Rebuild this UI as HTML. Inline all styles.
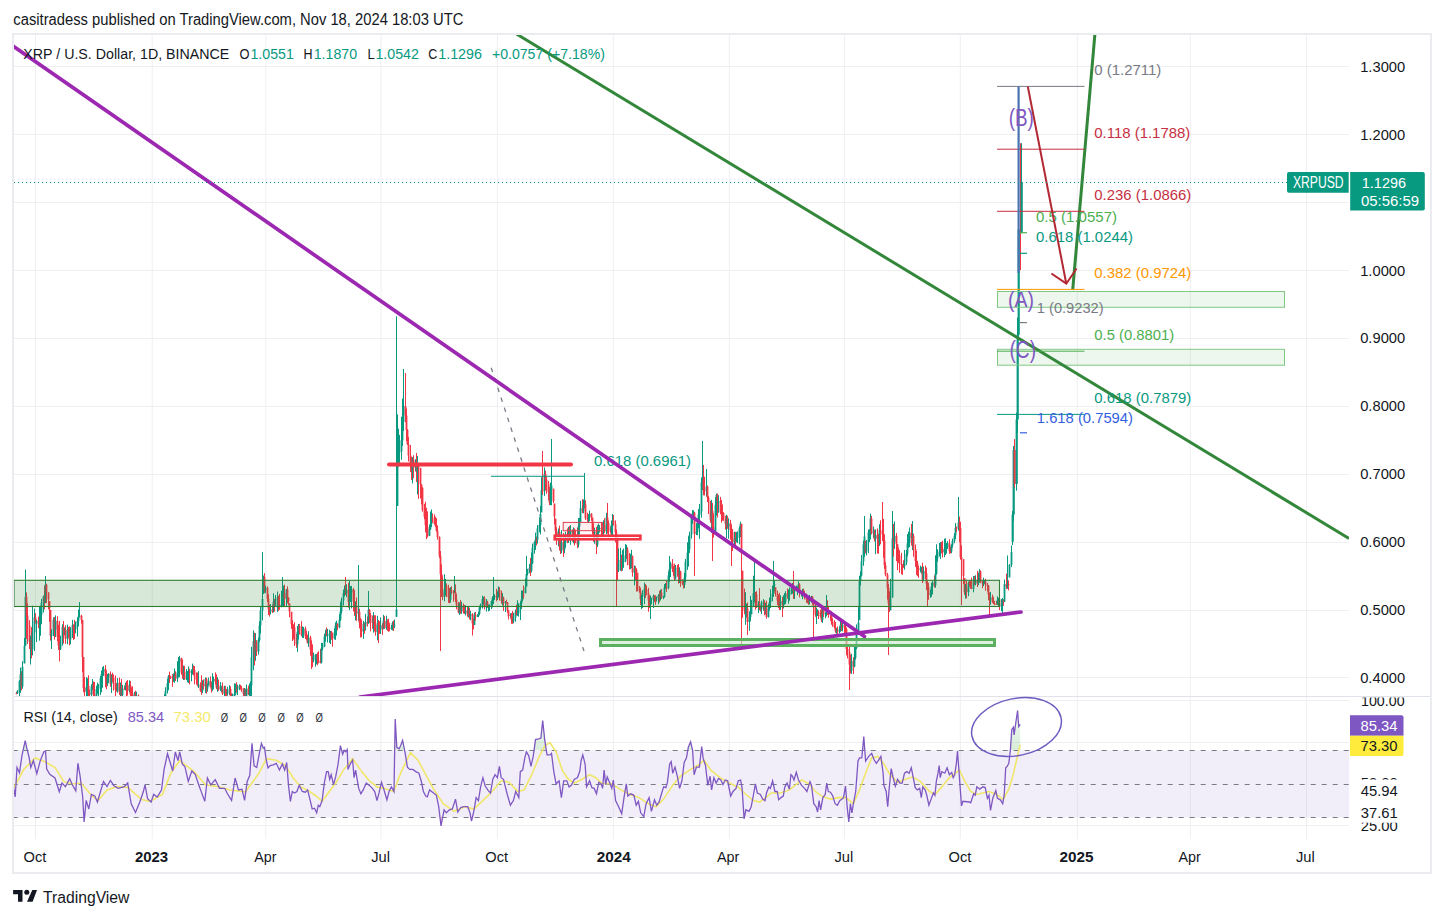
<!DOCTYPE html><html><head><meta charset="utf-8"><style>html,body{margin:0;padding:0;background:#fff;width:1444px;height:918px;overflow:hidden}svg{display:block}text{font-family:"Liberation Sans", sans-serif}</style></head><body><svg width="1444" height="918" viewBox="0 0 1444 918"><rect width="1444" height="918" fill="#fff"/><text x="13.3" y="24.6" font-size="15.6" fill="#131722" text-anchor="start" font-weight="400" textLength="450" lengthAdjust="spacingAndGlyphs" >casitradess published on TradingView.com, Nov 18, 2024 18:03 UTC</text><line x1="35.5" y1="35" x2="35.5" y2="839" stroke="#efeff2" stroke-width="1"/><line x1="152.2" y1="35" x2="152.2" y2="839" stroke="#efeff2" stroke-width="1"/><line x1="265.8" y1="35" x2="265.8" y2="839" stroke="#efeff2" stroke-width="1"/><line x1="381.0" y1="35" x2="381.0" y2="839" stroke="#efeff2" stroke-width="1"/><line x1="497.4" y1="35" x2="497.4" y2="839" stroke="#efeff2" stroke-width="1"/><line x1="613.3" y1="35" x2="613.3" y2="839" stroke="#efeff2" stroke-width="1"/><line x1="729.3" y1="35" x2="729.3" y2="839" stroke="#efeff2" stroke-width="1"/><line x1="844.4" y1="35" x2="844.4" y2="839" stroke="#efeff2" stroke-width="1"/><line x1="960.3" y1="35" x2="960.3" y2="839" stroke="#efeff2" stroke-width="1"/><line x1="1077.3" y1="35" x2="1077.3" y2="839" stroke="#efeff2" stroke-width="1"/><line x1="1190.3" y1="35" x2="1190.3" y2="839" stroke="#efeff2" stroke-width="1"/><line x1="1306.4" y1="35" x2="1306.4" y2="839" stroke="#efeff2" stroke-width="1"/><line x1="14" y1="677.5" x2="1349" y2="677.5" stroke="#efeff2" stroke-width="1"/><line x1="14" y1="610.5" x2="1349" y2="610.5" stroke="#efeff2" stroke-width="1"/><line x1="14" y1="542.5" x2="1349" y2="542.5" stroke="#efeff2" stroke-width="1"/><line x1="14" y1="474.5" x2="1349" y2="474.5" stroke="#efeff2" stroke-width="1"/><line x1="14" y1="406.5" x2="1349" y2="406.5" stroke="#efeff2" stroke-width="1"/><line x1="14" y1="338.5" x2="1349" y2="338.5" stroke="#efeff2" stroke-width="1"/><line x1="14" y1="270.5" x2="1349" y2="270.5" stroke="#efeff2" stroke-width="1"/><line x1="14" y1="202.5" x2="1349" y2="202.5" stroke="#efeff2" stroke-width="1"/><line x1="14" y1="134.5" x2="1349" y2="134.5" stroke="#efeff2" stroke-width="1"/><line x1="14" y1="66.5" x2="1349" y2="66.5" stroke="#efeff2" stroke-width="1"/><line x1="14" y1="700.5" x2="1349" y2="700.5" stroke="#efeff2" stroke-width="1"/><line x1="14" y1="742.5" x2="1349" y2="742.5" stroke="#efeff2" stroke-width="1"/><line x1="14" y1="825.5" x2="1349" y2="825.5" stroke="#efeff2" stroke-width="1"/><defs><clipPath id="pp"><rect x="14" y="35" width="1335" height="661"/></clipPath><clipPath id="rp"><rect x="14" y="697" width="1335" height="142"/></clipPath><linearGradient id="mg" x1="0" y1="0" x2="0" y2="1"><stop offset="0" stop-color="#b0407a"/><stop offset="1" stop-color="#7e57c2"/></linearGradient><linearGradient id="obg" x1="0" y1="0" x2="0" y2="1"><stop offset="0" stop-color="#7e57c2" stop-opacity="0.15"/><stop offset="1" stop-color="#089981" stop-opacity="0.35"/></linearGradient></defs><g clip-path="url(#pp)"><rect x="16" y="691.8" width="1" height="2.4" fill="#f23645"/><rect x="15.6" y="693.1" width="1.8" height="1.0" fill="#f23645"/><rect x="17" y="690.1" width="1" height="3.8" fill="#089981"/><rect x="16.6" y="691.1" width="1.8" height="2.0" fill="#089981"/><rect x="19" y="679.9" width="1" height="18.2" fill="#089981"/><rect x="18.6" y="681.1" width="1.8" height="9.9" fill="#089981"/><rect x="20" y="667.6" width="1" height="25.3" fill="#089981"/><rect x="19.6" y="674.3" width="1.8" height="6.8" fill="#089981"/><rect x="21" y="671.2" width="1" height="19.2" fill="#f23645"/><rect x="20.6" y="674.3" width="1.8" height="12.2" fill="#f23645"/><rect x="22" y="661.2" width="1" height="27.5" fill="#089981"/><rect x="21.6" y="666.9" width="1.8" height="19.6" fill="#089981"/><rect x="24" y="638.0" width="1" height="23.4" fill="#089981"/><rect x="23.6" y="645.8" width="1.8" height="17.7" fill="#089981"/><rect x="25" y="569.5" width="1" height="72.0" fill="#089981"/><rect x="24.6" y="596.9" width="1.8" height="48.9" fill="#089981"/><rect x="26" y="592.4" width="1" height="46.4" fill="#f23645"/><rect x="25.6" y="596.9" width="1.8" height="18.5" fill="#f23645"/><rect x="27" y="603.2" width="1" height="40.7" fill="#f23645"/><rect x="26.6" y="615.4" width="1.8" height="9.9" fill="#f23645"/><rect x="29" y="620.2" width="1" height="28.8" fill="#f23645"/><rect x="28.6" y="625.4" width="1.8" height="16.3" fill="#f23645"/><rect x="30" y="635.7" width="1" height="28.8" fill="#089981"/><rect x="29.6" y="639.7" width="1.8" height="2.0" fill="#089981"/><rect x="31" y="627.1" width="1" height="31.3" fill="#f23645"/><rect x="30.6" y="639.7" width="1.8" height="9.7" fill="#f23645"/><rect x="32" y="605.7" width="1" height="49.7" fill="#089981"/><rect x="31.6" y="632.5" width="1.8" height="16.9" fill="#089981"/><rect x="34" y="608.6" width="1" height="42.5" fill="#089981"/><rect x="33.6" y="617.4" width="1.8" height="15.1" fill="#089981"/><rect x="35" y="613.2" width="1" height="10.4" fill="#f23645"/><rect x="34.6" y="617.4" width="1.8" height="4.0" fill="#f23645"/><rect x="36" y="619.7" width="1" height="22.3" fill="#089981"/><rect x="35.6" y="621.2" width="1.8" height="1.0" fill="#089981"/><rect x="38" y="616.6" width="1" height="11.7" fill="#f23645"/><rect x="37.6" y="621.2" width="1.8" height="2.9" fill="#f23645"/><rect x="39" y="606.7" width="1" height="33.9" fill="#089981"/><rect x="38.6" y="623.0" width="1.8" height="1.1" fill="#089981"/><rect x="40" y="605.7" width="1" height="30.0" fill="#089981"/><rect x="39.6" y="614.7" width="1.8" height="8.3" fill="#089981"/><rect x="41" y="598.8" width="1" height="25.5" fill="#089981"/><rect x="40.6" y="602.4" width="1.8" height="12.3" fill="#089981"/><rect x="43" y="595.5" width="1" height="17.0" fill="#089981"/><rect x="42.6" y="596.6" width="1.8" height="5.8" fill="#089981"/><rect x="44" y="585.7" width="1" height="23.7" fill="#f23645"/><rect x="43.6" y="596.6" width="1.8" height="6.5" fill="#f23645"/><rect x="45" y="576.0" width="1" height="25.8" fill="#089981"/><rect x="44.6" y="584.8" width="1.8" height="18.3" fill="#089981"/><rect x="46" y="583.7" width="1" height="19.4" fill="#f23645"/><rect x="45.6" y="584.8" width="1.8" height="7.6" fill="#f23645"/><rect x="48" y="592.4" width="1" height="17.0" fill="#f23645"/><rect x="47.6" y="592.4" width="1.8" height="7.0" fill="#f23645"/><rect x="49" y="603.8" width="1" height="18.1" fill="#f23645"/><rect x="48.6" y="601.0" width="1.8" height="7.2" fill="#f23645"/><rect x="50" y="612.4" width="1" height="28.2" fill="#f23645"/><rect x="49.6" y="609.8" width="1.8" height="25.8" fill="#f23645"/><rect x="51" y="629.2" width="1" height="19.8" fill="#089981"/><rect x="50.6" y="632.9" width="1.8" height="2.8" fill="#089981"/><rect x="53" y="617.4" width="1" height="18.8" fill="#089981"/><rect x="52.6" y="619.9" width="1.8" height="13.0" fill="#089981"/><rect x="54" y="617.0" width="1" height="22.6" fill="#f23645"/><rect x="53.6" y="619.9" width="1.8" height="10.0" fill="#f23645"/><rect x="55" y="615.4" width="1" height="21.7" fill="#089981"/><rect x="54.6" y="620.8" width="1.8" height="9.1" fill="#089981"/><rect x="57" y="616.2" width="1" height="25.0" fill="#f23645"/><rect x="56.6" y="620.8" width="1.8" height="15.9" fill="#f23645"/><rect x="58" y="624.8" width="1" height="25.1" fill="#f23645"/><rect x="57.6" y="636.7" width="1.8" height="8.8" fill="#f23645"/><rect x="59" y="620.9" width="1" height="40.5" fill="#f23645"/><rect x="58.6" y="645.5" width="1.8" height="3.5" fill="#f23645"/><rect x="60" y="635.6" width="1" height="14.4" fill="#089981"/><rect x="59.6" y="642.9" width="1.8" height="6.2" fill="#089981"/><rect x="62" y="624.3" width="1" height="21.5" fill="#089981"/><rect x="61.6" y="626.9" width="1.8" height="16.0" fill="#089981"/><rect x="63" y="621.0" width="1" height="22.6" fill="#f23645"/><rect x="62.6" y="626.9" width="1.8" height="4.1" fill="#f23645"/><rect x="64" y="627.6" width="1" height="7.7" fill="#089981"/><rect x="63.6" y="629.6" width="1.8" height="1.3" fill="#089981"/><rect x="65" y="625.3" width="1" height="18.4" fill="#f23645"/><rect x="64.6" y="629.6" width="1.8" height="9.1" fill="#f23645"/><rect x="67" y="624.6" width="1" height="19.7" fill="#089981"/><rect x="66.6" y="629.9" width="1.8" height="8.8" fill="#089981"/><rect x="68" y="627.0" width="1" height="10.8" fill="#f23645"/><rect x="67.6" y="629.9" width="1.8" height="1.9" fill="#f23645"/><rect x="69" y="626.3" width="1" height="19.0" fill="#f23645"/><rect x="68.6" y="631.8" width="1.8" height="7.7" fill="#f23645"/><rect x="70" y="627.2" width="1" height="17.1" fill="#089981"/><rect x="69.6" y="628.9" width="1.8" height="10.5" fill="#089981"/><rect x="72" y="619.9" width="1" height="18.1" fill="#089981"/><rect x="71.6" y="625.3" width="1.8" height="3.6" fill="#089981"/><rect x="73" y="624.4" width="1" height="15.7" fill="#f23645"/><rect x="72.6" y="625.3" width="1.8" height="4.0" fill="#f23645"/><rect x="74" y="619.8" width="1" height="19.2" fill="#f23645"/><rect x="73.6" y="629.4" width="1.8" height="1.0" fill="#f23645"/><rect x="75" y="621.5" width="1" height="11.8" fill="#089981"/><rect x="74.6" y="624.1" width="1.8" height="5.3" fill="#089981"/><rect x="77" y="617.4" width="1" height="19.1" fill="#089981"/><rect x="76.6" y="620.9" width="1.8" height="3.2" fill="#089981"/><rect x="78" y="609.5" width="1" height="17.0" fill="#089981"/><rect x="77.6" y="616.5" width="1.8" height="4.4" fill="#089981"/><rect x="79" y="602.0" width="1" height="15.5" fill="#089981"/><rect x="78.6" y="615.7" width="1.8" height="1.0" fill="#089981"/><rect x="81" y="614.7" width="1" height="8.9" fill="#f23645"/><rect x="80.6" y="615.7" width="1.8" height="4.2" fill="#f23645"/><rect x="82" y="621.9" width="1" height="50.2" fill="#f23645"/><rect x="81.6" y="620.0" width="1.8" height="37.1" fill="#f23645"/><rect x="83" y="658.7" width="1" height="33.6" fill="#f23645"/><rect x="82.6" y="657.0" width="1.8" height="31.0" fill="#f23645"/><rect x="84" y="677.0" width="1" height="22.4" fill="#f23645"/><rect x="83.6" y="688.0" width="1.8" height="3.7" fill="#f23645"/><rect x="86" y="677.1" width="1" height="20.1" fill="#089981"/><rect x="85.6" y="687.0" width="1.8" height="4.7" fill="#089981"/><rect x="87" y="678.2" width="1" height="21.1" fill="#089981"/><rect x="86.6" y="686.0" width="1.8" height="1.0" fill="#089981"/><rect x="88" y="675.3" width="1" height="23.2" fill="#f23645"/><rect x="87.6" y="686.0" width="1.8" height="7.0" fill="#f23645"/><rect x="89" y="689.5" width="1" height="7.7" fill="#f23645"/><rect x="88.6" y="693.0" width="1.8" height="1.6" fill="#f23645"/><rect x="91" y="684.4" width="1" height="15.5" fill="#089981"/><rect x="90.6" y="686.4" width="1.8" height="8.2" fill="#089981"/><rect x="92" y="679.0" width="1" height="11.2" fill="#089981"/><rect x="91.6" y="683.7" width="1.8" height="2.7" fill="#089981"/><rect x="93" y="681.5" width="1" height="15.9" fill="#f23645"/><rect x="92.6" y="683.7" width="1.8" height="10.6" fill="#f23645"/><rect x="94" y="682.0" width="1" height="17.2" fill="#f23645"/><rect x="93.6" y="694.3" width="1.8" height="3.0" fill="#f23645"/><rect x="96" y="685.6" width="1" height="13.6" fill="#089981"/><rect x="95.6" y="688.9" width="1.8" height="8.5" fill="#089981"/><rect x="97" y="682.6" width="1" height="11.3" fill="#089981"/><rect x="96.6" y="688.7" width="1.8" height="1.0" fill="#089981"/><rect x="98" y="684.0" width="1" height="13.9" fill="#089981"/><rect x="97.6" y="686.8" width="1.8" height="1.9" fill="#089981"/><rect x="100" y="676.0" width="1" height="19.1" fill="#089981"/><rect x="99.6" y="678.1" width="1.8" height="8.7" fill="#089981"/><rect x="101" y="670.6" width="1" height="21.6" fill="#089981"/><rect x="100.6" y="674.4" width="1.8" height="3.7" fill="#089981"/><rect x="102" y="667.1" width="1" height="20.7" fill="#089981"/><rect x="101.6" y="672.3" width="1.8" height="2.1" fill="#089981"/><rect x="103" y="666.0" width="1" height="9.9" fill="#089981"/><rect x="102.6" y="668.9" width="1.8" height="3.3" fill="#089981"/><rect x="105" y="665.1" width="1" height="22.2" fill="#f23645"/><rect x="104.6" y="668.9" width="1.8" height="7.5" fill="#f23645"/><rect x="106" y="670.4" width="1" height="18.8" fill="#f23645"/><rect x="105.6" y="676.4" width="1.8" height="7.3" fill="#f23645"/><rect x="107" y="673.9" width="1" height="12.2" fill="#089981"/><rect x="106.6" y="676.7" width="1.8" height="7.0" fill="#089981"/><rect x="108" y="673.1" width="1" height="9.8" fill="#089981"/><rect x="107.6" y="673.9" width="1.8" height="2.7" fill="#089981"/><rect x="110" y="671.5" width="1" height="15.2" fill="#f23645"/><rect x="109.6" y="673.9" width="1.8" height="9.9" fill="#f23645"/><rect x="111" y="674.5" width="1" height="18.4" fill="#089981"/><rect x="110.6" y="676.1" width="1.8" height="7.7" fill="#089981"/><rect x="112" y="672.7" width="1" height="9.1" fill="#f23645"/><rect x="111.6" y="676.1" width="1.8" height="1.5" fill="#f23645"/><rect x="113" y="674.4" width="1" height="16.1" fill="#f23645"/><rect x="112.6" y="677.7" width="1.8" height="5.4" fill="#f23645"/><rect x="115" y="675.5" width="1" height="23.2" fill="#f23645"/><rect x="114.6" y="683.0" width="1.8" height="6.5" fill="#f23645"/><rect x="116" y="683.1" width="1" height="8.5" fill="#f23645"/><rect x="115.6" y="689.6" width="1.8" height="1.0" fill="#f23645"/><rect x="117" y="678.1" width="1" height="14.6" fill="#089981"/><rect x="116.6" y="682.8" width="1.8" height="7.8" fill="#089981"/><rect x="119" y="677.5" width="1" height="17.4" fill="#f23645"/><rect x="118.6" y="682.8" width="1.8" height="9.2" fill="#f23645"/><rect x="120" y="682.6" width="1" height="13.5" fill="#089981"/><rect x="119.6" y="687.1" width="1.8" height="4.8" fill="#089981"/><rect x="121" y="678.9" width="1" height="18.7" fill="#f23645"/><rect x="120.6" y="687.1" width="1.8" height="7.8" fill="#f23645"/><rect x="122" y="684.9" width="1" height="12.7" fill="#089981"/><rect x="121.6" y="688.7" width="1.8" height="6.3" fill="#089981"/><rect x="124" y="685.8" width="1" height="4.2" fill="#f23645"/><rect x="123.6" y="688.7" width="1.8" height="1.0" fill="#f23645"/><rect x="125" y="682.6" width="1" height="7.8" fill="#089981"/><rect x="124.6" y="684.7" width="1.8" height="4.9" fill="#089981"/><rect x="126" y="681.1" width="1" height="15.4" fill="#f23645"/><rect x="125.6" y="684.7" width="1.8" height="1.0" fill="#f23645"/><rect x="127" y="680.0" width="1" height="15.6" fill="#f23645"/><rect x="126.6" y="684.8" width="1.8" height="6.2" fill="#f23645"/><rect x="129" y="680.3" width="1" height="12.4" fill="#089981"/><rect x="128.6" y="685.4" width="1.8" height="5.6" fill="#089981"/><rect x="130" y="681.1" width="1" height="18.5" fill="#f23645"/><rect x="129.6" y="685.4" width="1.8" height="9.0" fill="#f23645"/><rect x="131" y="687.2" width="1" height="15.6" fill="#f23645"/><rect x="130.6" y="694.4" width="1.8" height="1.0" fill="#f23645"/><rect x="132" y="686.3" width="1" height="18.1" fill="#f23645"/><rect x="131.6" y="694.9" width="1.8" height="3.0" fill="#f23645"/><rect x="134" y="691.9" width="1" height="8.9" fill="#089981"/><rect x="133.6" y="693.2" width="1.8" height="4.7" fill="#089981"/><rect x="135" y="690.7" width="1" height="18.6" fill="#f23645"/><rect x="134.6" y="693.2" width="1.8" height="7.4" fill="#f23645"/><rect x="136" y="691.7" width="1" height="17.0" fill="#089981"/><rect x="135.6" y="695.7" width="1.8" height="4.9" fill="#089981"/><rect x="138" y="694.4" width="1" height="14.2" fill="#f23645"/><rect x="137.6" y="695.7" width="1.8" height="9.2" fill="#f23645"/><rect x="139" y="696.6" width="1" height="19.6" fill="#089981"/><rect x="138.6" y="702.9" width="1.8" height="2.0" fill="#089981"/><rect x="140" y="698.9" width="1" height="17.6" fill="#f23645"/><rect x="139.6" y="702.9" width="1.8" height="3.4" fill="#f23645"/><rect x="141" y="699.0" width="1" height="12.5" fill="#f23645"/><rect x="140.6" y="706.3" width="1.8" height="2.7" fill="#f23645"/><rect x="143" y="703.3" width="1" height="8.8" fill="#f23645"/><rect x="142.6" y="709.0" width="1.8" height="2.8" fill="#f23645"/><rect x="144" y="697.5" width="1" height="20.2" fill="#089981"/><rect x="143.6" y="705.1" width="1.8" height="6.6" fill="#089981"/><rect x="145" y="699.8" width="1" height="10.9" fill="#f23645"/><rect x="144.6" y="705.1" width="1.8" height="2.2" fill="#f23645"/><rect x="146" y="696.4" width="1" height="12.1" fill="#089981"/><rect x="145.6" y="703.9" width="1.8" height="3.4" fill="#089981"/><rect x="148" y="698.3" width="1" height="16.7" fill="#f23645"/><rect x="147.6" y="703.9" width="1.8" height="8.3" fill="#f23645"/><rect x="149" y="708.2" width="1" height="9.5" fill="#f23645"/><rect x="148.6" y="712.2" width="1.8" height="4.2" fill="#f23645"/><rect x="150" y="712.5" width="1" height="7.5" fill="#f23645"/><rect x="149.6" y="716.4" width="1.8" height="1.3" fill="#f23645"/><rect x="151" y="709.6" width="1" height="9.2" fill="#089981"/><rect x="150.6" y="714.9" width="1.8" height="2.8" fill="#089981"/><rect x="153" y="702.0" width="1" height="14.8" fill="#089981"/><rect x="152.6" y="705.2" width="1.8" height="9.7" fill="#089981"/><rect x="154" y="702.3" width="1" height="5.2" fill="#f23645"/><rect x="153.6" y="705.2" width="1.8" height="1.4" fill="#f23645"/><rect x="155" y="704.3" width="1" height="14.0" fill="#f23645"/><rect x="154.6" y="706.6" width="1.8" height="5.9" fill="#f23645"/><rect x="156" y="702.5" width="1" height="15.7" fill="#089981"/><rect x="155.6" y="706.3" width="1.8" height="6.2" fill="#089981"/><rect x="158" y="700.6" width="1" height="6.7" fill="#089981"/><rect x="157.6" y="704.5" width="1.8" height="1.8" fill="#089981"/><rect x="159" y="700.4" width="1" height="10.9" fill="#f23645"/><rect x="158.6" y="704.5" width="1.8" height="4.5" fill="#f23645"/><rect x="160" y="701.7" width="1" height="11.8" fill="#089981"/><rect x="159.6" y="704.7" width="1.8" height="4.4" fill="#089981"/><rect x="162" y="696.1" width="1" height="13.6" fill="#f23645"/><rect x="161.6" y="704.7" width="1.8" height="1.0" fill="#f23645"/><rect x="163" y="700.4" width="1" height="6.1" fill="#089981"/><rect x="162.6" y="702.0" width="1.8" height="2.9" fill="#089981"/><rect x="164" y="694.3" width="1" height="8.7" fill="#089981"/><rect x="163.6" y="697.7" width="1.8" height="4.3" fill="#089981"/><rect x="165" y="687.3" width="1" height="12.1" fill="#089981"/><rect x="164.6" y="691.0" width="1.8" height="6.7" fill="#089981"/><rect x="167" y="678.8" width="1" height="14.7" fill="#089981"/><rect x="166.6" y="683.2" width="1.8" height="7.8" fill="#089981"/><rect x="168" y="675.0" width="1" height="14.8" fill="#089981"/><rect x="167.6" y="676.2" width="1.8" height="7.0" fill="#089981"/><rect x="169" y="671.6" width="1" height="11.4" fill="#f23645"/><rect x="168.6" y="676.2" width="1.8" height="1.0" fill="#f23645"/><rect x="170" y="675.7" width="1" height="3.3" fill="#f23645"/><rect x="169.6" y="676.4" width="1.8" height="1.0" fill="#f23645"/><rect x="172" y="674.2" width="1" height="12.6" fill="#f23645"/><rect x="171.6" y="677.0" width="1.8" height="1.0" fill="#f23645"/><rect x="173" y="673.4" width="1" height="8.5" fill="#089981"/><rect x="172.6" y="677.3" width="1.8" height="1.0" fill="#089981"/><rect x="174" y="668.5" width="1" height="14.3" fill="#089981"/><rect x="173.6" y="673.9" width="1.8" height="3.4" fill="#089981"/><rect x="175" y="671.3" width="1" height="9.7" fill="#f23645"/><rect x="174.6" y="673.9" width="1.8" height="4.6" fill="#f23645"/><rect x="177" y="661.3" width="1" height="20.8" fill="#089981"/><rect x="176.6" y="672.3" width="1.8" height="6.2" fill="#089981"/><rect x="178" y="657.0" width="1" height="20.4" fill="#089981"/><rect x="177.6" y="661.8" width="1.8" height="10.6" fill="#089981"/><rect x="179" y="655.8" width="1" height="21.3" fill="#089981"/><rect x="178.6" y="658.2" width="1.8" height="3.6" fill="#089981"/><rect x="181" y="657.7" width="1" height="17.1" fill="#f23645"/><rect x="180.6" y="658.2" width="1.8" height="14.4" fill="#f23645"/><rect x="182" y="659.6" width="1" height="19.2" fill="#f23645"/><rect x="181.6" y="672.6" width="1.8" height="1.0" fill="#f23645"/><rect x="183" y="665.6" width="1" height="14.4" fill="#089981"/><rect x="182.6" y="671.8" width="1.8" height="1.3" fill="#089981"/><rect x="184" y="665.8" width="1" height="14.1" fill="#f23645"/><rect x="183.6" y="671.8" width="1.8" height="7.0" fill="#f23645"/><rect x="186" y="669.1" width="1" height="11.0" fill="#089981"/><rect x="185.6" y="678.3" width="1.8" height="1.0" fill="#089981"/><rect x="187" y="671.0" width="1" height="11.3" fill="#089981"/><rect x="186.6" y="676.6" width="1.8" height="1.7" fill="#089981"/><rect x="188" y="666.4" width="1" height="16.7" fill="#089981"/><rect x="187.6" y="671.9" width="1.8" height="4.7" fill="#089981"/><rect x="189" y="668.8" width="1" height="15.5" fill="#f23645"/><rect x="188.6" y="671.9" width="1.8" height="1.0" fill="#f23645"/><rect x="191" y="669.5" width="1" height="11.8" fill="#089981"/><rect x="190.6" y="670.5" width="1.8" height="2.0" fill="#089981"/><rect x="192" y="663.6" width="1" height="11.0" fill="#089981"/><rect x="191.6" y="669.3" width="1.8" height="1.2" fill="#089981"/><rect x="193" y="665.4" width="1" height="9.5" fill="#f23645"/><rect x="192.6" y="669.3" width="1.8" height="1.0" fill="#f23645"/><rect x="194" y="666.1" width="1" height="18.2" fill="#f23645"/><rect x="193.6" y="670.2" width="1.8" height="6.0" fill="#f23645"/><rect x="196" y="672.4" width="1" height="11.9" fill="#f23645"/><rect x="195.6" y="676.2" width="1.8" height="3.4" fill="#f23645"/><rect x="197" y="672.5" width="1" height="14.0" fill="#f23645"/><rect x="196.6" y="679.6" width="1.8" height="5.5" fill="#f23645"/><rect x="198" y="671.1" width="1" height="16.9" fill="#089981"/><rect x="197.6" y="684.8" width="1.8" height="1.0" fill="#089981"/><rect x="200" y="682.3" width="1" height="9.4" fill="#f23645"/><rect x="199.6" y="684.8" width="1.8" height="6.1" fill="#f23645"/><rect x="201" y="675.2" width="1" height="19.7" fill="#f23645"/><rect x="200.6" y="691.0" width="1.8" height="1.0" fill="#f23645"/><rect x="202" y="680.2" width="1" height="13.0" fill="#089981"/><rect x="201.6" y="683.8" width="1.8" height="7.2" fill="#089981"/><rect x="203" y="679.4" width="1" height="9.9" fill="#f23645"/><rect x="202.6" y="683.8" width="1.8" height="2.4" fill="#f23645"/><rect x="205" y="677.4" width="1" height="15.7" fill="#089981"/><rect x="204.6" y="679.1" width="1.8" height="7.0" fill="#089981"/><rect x="206" y="677.7" width="1" height="16.0" fill="#f23645"/><rect x="205.6" y="679.1" width="1.8" height="9.3" fill="#f23645"/><rect x="207" y="683.5" width="1" height="8.2" fill="#089981"/><rect x="206.6" y="684.9" width="1.8" height="3.6" fill="#089981"/><rect x="208" y="677.5" width="1" height="8.3" fill="#089981"/><rect x="207.6" y="680.9" width="1.8" height="3.9" fill="#089981"/><rect x="210" y="676.5" width="1" height="11.1" fill="#f23645"/><rect x="209.6" y="680.9" width="1.8" height="6.1" fill="#f23645"/><rect x="211" y="682.2" width="1" height="10.4" fill="#f23645"/><rect x="210.6" y="687.1" width="1.8" height="2.2" fill="#f23645"/><rect x="212" y="673.3" width="1" height="17.6" fill="#089981"/><rect x="211.6" y="681.4" width="1.8" height="7.8" fill="#089981"/><rect x="213" y="676.6" width="1" height="12.6" fill="#089981"/><rect x="212.6" y="678.9" width="1.8" height="2.5" fill="#089981"/><rect x="215" y="672.4" width="1" height="12.2" fill="#f23645"/><rect x="214.6" y="678.9" width="1.8" height="2.7" fill="#f23645"/><rect x="216" y="674.3" width="1" height="14.9" fill="#f23645"/><rect x="215.6" y="681.6" width="1.8" height="6.1" fill="#f23645"/><rect x="217" y="677.2" width="1" height="14.6" fill="#089981"/><rect x="216.6" y="685.5" width="1.8" height="2.2" fill="#089981"/><rect x="218" y="679.6" width="1" height="11.3" fill="#f23645"/><rect x="217.6" y="685.5" width="1.8" height="3.7" fill="#f23645"/><rect x="220" y="682.0" width="1" height="9.1" fill="#089981"/><rect x="219.6" y="687.0" width="1.8" height="2.1" fill="#089981"/><rect x="221" y="685.8" width="1" height="6.4" fill="#089981"/><rect x="220.6" y="686.3" width="1.8" height="1.0" fill="#089981"/><rect x="222" y="682.6" width="1" height="12.4" fill="#f23645"/><rect x="221.6" y="686.3" width="1.8" height="7.4" fill="#f23645"/><rect x="224" y="685.7" width="1" height="10.6" fill="#089981"/><rect x="223.6" y="688.8" width="1.8" height="4.9" fill="#089981"/><rect x="225" y="685.9" width="1" height="12.3" fill="#f23645"/><rect x="224.6" y="688.8" width="1.8" height="2.1" fill="#f23645"/><rect x="226" y="689.2" width="1" height="7.1" fill="#f23645"/><rect x="225.6" y="690.9" width="1.8" height="2.7" fill="#f23645"/><rect x="227" y="686.8" width="1" height="8.9" fill="#089981"/><rect x="226.6" y="691.6" width="1.8" height="2.0" fill="#089981"/><rect x="229" y="685.2" width="1" height="9.8" fill="#089981"/><rect x="228.6" y="689.0" width="1.8" height="2.7" fill="#089981"/><rect x="230" y="686.3" width="1" height="12.9" fill="#f23645"/><rect x="229.6" y="689.0" width="1.8" height="6.7" fill="#f23645"/><rect x="231" y="693.2" width="1" height="5.5" fill="#f23645"/><rect x="230.6" y="695.6" width="1.8" height="1.0" fill="#f23645"/><rect x="232" y="693.6" width="1" height="3.1" fill="#089981"/><rect x="231.6" y="694.9" width="1.8" height="1.5" fill="#089981"/><rect x="234" y="683.4" width="1" height="12.9" fill="#089981"/><rect x="233.6" y="694.2" width="1.8" height="1.0" fill="#089981"/><rect x="235" y="683.6" width="1" height="11.8" fill="#089981"/><rect x="234.6" y="687.8" width="1.8" height="6.3" fill="#089981"/><rect x="236" y="682.2" width="1" height="10.3" fill="#f23645"/><rect x="235.6" y="687.8" width="1.8" height="1.6" fill="#f23645"/><rect x="237" y="684.7" width="1" height="10.4" fill="#089981"/><rect x="236.6" y="687.0" width="1.8" height="2.4" fill="#089981"/><rect x="239" y="684.4" width="1" height="5.7" fill="#089981"/><rect x="238.6" y="685.9" width="1.8" height="1.1" fill="#089981"/><rect x="240" y="684.8" width="1" height="4.6" fill="#f23645"/><rect x="239.6" y="685.9" width="1.8" height="2.3" fill="#f23645"/><rect x="241" y="686.0" width="1" height="5.8" fill="#f23645"/><rect x="240.6" y="688.2" width="1.8" height="2.2" fill="#f23645"/><rect x="243" y="688.1" width="1" height="8.8" fill="#f23645"/><rect x="242.6" y="690.4" width="1.8" height="3.5" fill="#f23645"/><rect x="244" y="688.0" width="1" height="9.4" fill="#089981"/><rect x="243.6" y="691.6" width="1.8" height="2.3" fill="#089981"/><rect x="245" y="688.9" width="1" height="10.3" fill="#f23645"/><rect x="244.6" y="691.6" width="1.8" height="5.3" fill="#f23645"/><rect x="246" y="684.5" width="1" height="15.2" fill="#089981"/><rect x="245.6" y="688.5" width="1.8" height="8.4" fill="#089981"/><rect x="248" y="685.6" width="1" height="9.5" fill="#f23645"/><rect x="247.6" y="688.5" width="1.8" height="5.9" fill="#f23645"/><rect x="249" y="683.5" width="1" height="14.8" fill="#089981"/><rect x="248.6" y="693.4" width="1.8" height="1.0" fill="#089981"/><rect x="250" y="681.5" width="1" height="17.2" fill="#089981"/><rect x="249.6" y="685.4" width="1.8" height="8.0" fill="#089981"/><rect x="251" y="646.8" width="1" height="52.0" fill="#089981"/><rect x="250.6" y="657.5" width="1.8" height="27.9" fill="#089981"/><rect x="253" y="630.3" width="1" height="40.0" fill="#089981"/><rect x="252.6" y="641.2" width="1.8" height="16.3" fill="#089981"/><rect x="254" y="632.7" width="1" height="32.7" fill="#f23645"/><rect x="253.6" y="641.2" width="1.8" height="13.7" fill="#f23645"/><rect x="255" y="633.2" width="1" height="27.6" fill="#089981"/><rect x="254.6" y="642.1" width="1.8" height="12.9" fill="#089981"/><rect x="256" y="640.1" width="1" height="15.9" fill="#f23645"/><rect x="255.6" y="642.1" width="1.8" height="9.4" fill="#f23645"/><rect x="258" y="637.6" width="1" height="17.0" fill="#089981"/><rect x="257.6" y="640.1" width="1.8" height="11.4" fill="#089981"/><rect x="259" y="621.2" width="1" height="20.7" fill="#089981"/><rect x="258.6" y="625.6" width="1.8" height="14.4" fill="#089981"/><rect x="260" y="606.4" width="1" height="27.1" fill="#089981"/><rect x="259.6" y="610.7" width="1.8" height="14.9" fill="#089981"/><rect x="262" y="552.0" width="1" height="68.4" fill="#089981"/><rect x="261.6" y="599.0" width="1.8" height="11.7" fill="#089981"/><rect x="263" y="575.5" width="1" height="17.0" fill="#089981"/><rect x="262.6" y="576.9" width="1.8" height="17.1" fill="#089981"/><rect x="264" y="573.1" width="1" height="19.5" fill="#f23645"/><rect x="263.6" y="576.9" width="1.8" height="12.8" fill="#f23645"/><rect x="265" y="585.5" width="1" height="7.5" fill="#089981"/><rect x="264.6" y="587.8" width="1.8" height="1.9" fill="#089981"/><rect x="267" y="586.5" width="1" height="15.6" fill="#f23645"/><rect x="266.6" y="587.8" width="1.8" height="11.0" fill="#f23645"/><rect x="268" y="594.2" width="1" height="20.8" fill="#f23645"/><rect x="267.6" y="598.8" width="1.8" height="10.5" fill="#f23645"/><rect x="269" y="604.8" width="1" height="11.8" fill="#f23645"/><rect x="268.6" y="609.3" width="1.8" height="2.6" fill="#f23645"/><rect x="270" y="604.0" width="1" height="10.4" fill="#089981"/><rect x="269.6" y="609.7" width="1.8" height="2.1" fill="#089981"/><rect x="272" y="604.7" width="1" height="8.3" fill="#f23645"/><rect x="271.6" y="609.7" width="1.8" height="1.0" fill="#f23645"/><rect x="273" y="593.3" width="1" height="19.1" fill="#089981"/><rect x="272.6" y="601.6" width="1.8" height="8.4" fill="#089981"/><rect x="274" y="598.8" width="1" height="12.9" fill="#f23645"/><rect x="273.6" y="601.6" width="1.8" height="4.3" fill="#f23645"/><rect x="275" y="595.0" width="1" height="11.7" fill="#089981"/><rect x="274.6" y="600.2" width="1.8" height="5.7" fill="#089981"/><rect x="277" y="591.5" width="1" height="20.6" fill="#089981"/><rect x="276.6" y="597.5" width="1.8" height="2.7" fill="#089981"/><rect x="278" y="595.7" width="1" height="15.2" fill="#f23645"/><rect x="277.6" y="597.5" width="1.8" height="7.2" fill="#f23645"/><rect x="279" y="593.8" width="1" height="16.0" fill="#f23645"/><rect x="278.6" y="604.7" width="1.8" height="1.0" fill="#f23645"/><rect x="281" y="590.7" width="1" height="16.6" fill="#089981"/><rect x="280.6" y="604.8" width="1.8" height="1.0" fill="#089981"/><rect x="282" y="577.0" width="1" height="28.9" fill="#089981"/><rect x="281.6" y="603.6" width="1.8" height="1.2" fill="#089981"/><rect x="283" y="585.6" width="1" height="21.5" fill="#089981"/><rect x="282.6" y="593.2" width="1.8" height="10.4" fill="#089981"/><rect x="284" y="584.7" width="1" height="21.6" fill="#f23645"/><rect x="283.6" y="593.2" width="1.8" height="5.6" fill="#f23645"/><rect x="286" y="588.9" width="1" height="18.1" fill="#089981"/><rect x="285.6" y="589.5" width="1.8" height="9.3" fill="#089981"/><rect x="287" y="586.3" width="1" height="17.1" fill="#f23645"/><rect x="286.6" y="589.5" width="1.8" height="8.2" fill="#f23645"/><rect x="288" y="597.2" width="1" height="7.7" fill="#f23645"/><rect x="287.6" y="597.7" width="1.8" height="3.4" fill="#f23645"/><rect x="289" y="604.8" width="1" height="12.5" fill="#f23645"/><rect x="288.6" y="603.3" width="1.8" height="8.2" fill="#f23645"/><rect x="291" y="613.2" width="1" height="15.6" fill="#f23645"/><rect x="290.6" y="611.7" width="1.8" height="12.6" fill="#f23645"/><rect x="292" y="620.2" width="1" height="20.8" fill="#f23645"/><rect x="291.6" y="624.3" width="1.8" height="1.3" fill="#f23645"/><rect x="293" y="624.3" width="1" height="15.2" fill="#f23645"/><rect x="292.6" y="625.5" width="1.8" height="1.8" fill="#f23645"/><rect x="294" y="622.2" width="1" height="23.8" fill="#f23645"/><rect x="293.6" y="627.4" width="1.8" height="8.2" fill="#f23645"/><rect x="296" y="633.8" width="1" height="14.0" fill="#f23645"/><rect x="295.6" y="635.6" width="1.8" height="8.9" fill="#f23645"/><rect x="297" y="626.0" width="1" height="26.0" fill="#089981"/><rect x="296.6" y="631.8" width="1.8" height="12.6" fill="#089981"/><rect x="298" y="624.0" width="1" height="15.7" fill="#089981"/><rect x="297.6" y="626.2" width="1.8" height="5.6" fill="#089981"/><rect x="299" y="623.9" width="1" height="10.6" fill="#f23645"/><rect x="298.6" y="626.2" width="1.8" height="5.3" fill="#f23645"/><rect x="301" y="621.2" width="1" height="15.2" fill="#f23645"/><rect x="300.6" y="631.5" width="1.8" height="3.8" fill="#f23645"/><rect x="302" y="626.5" width="1" height="11.4" fill="#089981"/><rect x="301.6" y="634.7" width="1.8" height="1.0" fill="#089981"/><rect x="303" y="626.9" width="1" height="11.1" fill="#089981"/><rect x="302.6" y="628.7" width="1.8" height="6.0" fill="#089981"/><rect x="305" y="626.5" width="1" height="12.5" fill="#f23645"/><rect x="304.6" y="628.7" width="1.8" height="7.6" fill="#f23645"/><rect x="306" y="631.1" width="1" height="9.3" fill="#f23645"/><rect x="305.6" y="636.3" width="1.8" height="1.1" fill="#f23645"/><rect x="307" y="634.5" width="1" height="8.9" fill="#f23645"/><rect x="306.6" y="637.4" width="1.8" height="5.7" fill="#f23645"/><rect x="308" y="631.2" width="1" height="15.7" fill="#089981"/><rect x="307.6" y="637.5" width="1.8" height="5.6" fill="#089981"/><rect x="310" y="635.8" width="1" height="19.8" fill="#f23645"/><rect x="309.6" y="637.5" width="1.8" height="12.0" fill="#f23645"/><rect x="311" y="640.4" width="1" height="28.6" fill="#f23645"/><rect x="310.6" y="649.5" width="1.8" height="6.8" fill="#f23645"/><rect x="312" y="644.3" width="1" height="22.8" fill="#f23645"/><rect x="311.6" y="656.3" width="1.8" height="4.0" fill="#f23645"/><rect x="313" y="652.6" width="1" height="9.8" fill="#089981"/><rect x="312.6" y="655.9" width="1.8" height="4.4" fill="#089981"/><rect x="315" y="654.4" width="1" height="12.2" fill="#089981"/><rect x="314.6" y="654.7" width="1.8" height="1.2" fill="#089981"/><rect x="316" y="654.2" width="1" height="10.1" fill="#089981"/><rect x="315.6" y="654.4" width="1.8" height="1.0" fill="#089981"/><rect x="317" y="652.5" width="1" height="12.8" fill="#f23645"/><rect x="316.6" y="654.4" width="1.8" height="6.1" fill="#f23645"/><rect x="318" y="651.3" width="1" height="12.1" fill="#f23645"/><rect x="317.6" y="660.5" width="1.8" height="1.6" fill="#f23645"/><rect x="320" y="648.8" width="1" height="14.6" fill="#f23645"/><rect x="319.6" y="662.0" width="1.8" height="1.0" fill="#f23645"/><rect x="321" y="642.8" width="1" height="20.7" fill="#089981"/><rect x="320.6" y="648.6" width="1.8" height="13.9" fill="#089981"/><rect x="322" y="643.0" width="1" height="7.5" fill="#089981"/><rect x="321.6" y="646.6" width="1.8" height="1.9" fill="#089981"/><rect x="324" y="633.6" width="1" height="13.5" fill="#089981"/><rect x="323.6" y="636.4" width="1.8" height="10.3" fill="#089981"/><rect x="325" y="629.7" width="1" height="11.9" fill="#089981"/><rect x="324.6" y="634.3" width="1.8" height="2.1" fill="#089981"/><rect x="326" y="627.5" width="1" height="8.7" fill="#f23645"/><rect x="325.6" y="634.3" width="1.8" height="1.0" fill="#f23645"/><rect x="327" y="628.9" width="1" height="13.6" fill="#089981"/><rect x="326.6" y="635.0" width="1.8" height="1.0" fill="#089981"/><rect x="329" y="629.7" width="1" height="13.2" fill="#089981"/><rect x="328.6" y="633.7" width="1.8" height="1.3" fill="#089981"/><rect x="330" y="631.0" width="1" height="13.0" fill="#089981"/><rect x="329.6" y="632.2" width="1.8" height="1.6" fill="#089981"/><rect x="331" y="630.9" width="1" height="8.9" fill="#f23645"/><rect x="330.6" y="632.2" width="1.8" height="4.9" fill="#f23645"/><rect x="332" y="632.8" width="1" height="13.9" fill="#f23645"/><rect x="331.6" y="637.0" width="1.8" height="1.0" fill="#f23645"/><rect x="334" y="628.4" width="1" height="11.1" fill="#089981"/><rect x="333.6" y="632.3" width="1.8" height="5.5" fill="#089981"/><rect x="335" y="622.3" width="1" height="17.5" fill="#089981"/><rect x="334.6" y="625.6" width="1.8" height="6.7" fill="#089981"/><rect x="336" y="620.7" width="1" height="14.9" fill="#089981"/><rect x="335.6" y="623.9" width="1.8" height="1.7" fill="#089981"/><rect x="337" y="623.2" width="1" height="7.1" fill="#f23645"/><rect x="336.6" y="623.9" width="1.8" height="3.3" fill="#f23645"/><rect x="339" y="614.0" width="1" height="14.2" fill="#089981"/><rect x="338.6" y="619.8" width="1.8" height="7.5" fill="#089981"/><rect x="340" y="602.3" width="1" height="18.7" fill="#089981"/><rect x="339.6" y="611.4" width="1.8" height="8.4" fill="#089981"/><rect x="341" y="597.6" width="1" height="16.2" fill="#089981"/><rect x="340.6" y="600.4" width="1.8" height="10.9" fill="#089981"/><rect x="343" y="589.5" width="1" height="16.1" fill="#089981"/><rect x="342.6" y="593.1" width="1.8" height="7.3" fill="#089981"/><rect x="344" y="585.5" width="1" height="10.8" fill="#089981"/><rect x="343.6" y="592.7" width="1.8" height="1.0" fill="#089981"/><rect x="345" y="577.0" width="1" height="18.2" fill="#f23645"/><rect x="344.6" y="592.7" width="1.8" height="1.0" fill="#f23645"/><rect x="346" y="584.3" width="1" height="12.9" fill="#089981"/><rect x="345.6" y="589.8" width="1.8" height="3.5" fill="#089981"/><rect x="348" y="582.8" width="1" height="24.9" fill="#f23645"/><rect x="347.6" y="589.8" width="1.8" height="12.2" fill="#f23645"/><rect x="349" y="580.9" width="1" height="29.2" fill="#089981"/><rect x="348.6" y="596.8" width="1.8" height="5.2" fill="#089981"/><rect x="350" y="586.1" width="1" height="15.7" fill="#089981"/><rect x="349.6" y="592.3" width="1.8" height="4.5" fill="#089981"/><rect x="351" y="585.9" width="1" height="22.4" fill="#089981"/><rect x="350.6" y="589.3" width="1.8" height="3.0" fill="#089981"/><rect x="353" y="587.9" width="1" height="23.5" fill="#f23645"/><rect x="352.6" y="589.3" width="1.8" height="12.0" fill="#f23645"/><rect x="354" y="590.3" width="1" height="25.6" fill="#f23645"/><rect x="353.6" y="601.3" width="1.8" height="7.1" fill="#f23645"/><rect x="355" y="601.4" width="1" height="18.9" fill="#089981"/><rect x="354.6" y="606.6" width="1.8" height="1.8" fill="#089981"/><rect x="356" y="597.5" width="1" height="23.4" fill="#f23645"/><rect x="355.6" y="606.6" width="1.8" height="7.0" fill="#f23645"/><rect x="358" y="565.0" width="1" height="55.8" fill="#089981"/><rect x="357.6" y="611.9" width="1.8" height="1.7" fill="#089981"/><rect x="359" y="608.7" width="1" height="19.4" fill="#f23645"/><rect x="358.6" y="611.9" width="1.8" height="11.0" fill="#f23645"/><rect x="360" y="617.8" width="1" height="19.7" fill="#f23645"/><rect x="359.6" y="622.9" width="1.8" height="6.1" fill="#f23645"/><rect x="361" y="619.4" width="1" height="17.8" fill="#f23645"/><rect x="360.6" y="629.0" width="1.8" height="2.4" fill="#f23645"/><rect x="363" y="620.9" width="1" height="18.0" fill="#089981"/><rect x="362.6" y="624.0" width="1.8" height="7.3" fill="#089981"/><rect x="364" y="622.4" width="1" height="11.3" fill="#f23645"/><rect x="363.6" y="624.0" width="1.8" height="2.3" fill="#f23645"/><rect x="365" y="613.9" width="1" height="16.7" fill="#089981"/><rect x="364.6" y="621.9" width="1.8" height="4.5" fill="#089981"/><rect x="367" y="616.5" width="1" height="10.1" fill="#f23645"/><rect x="366.6" y="621.9" width="1.8" height="1.4" fill="#f23645"/><rect x="368" y="591.0" width="1" height="32.9" fill="#089981"/><rect x="367.6" y="609.7" width="1.8" height="13.5" fill="#089981"/><rect x="369" y="609.0" width="1" height="14.0" fill="#f23645"/><rect x="368.6" y="609.7" width="1.8" height="5.3" fill="#f23645"/><rect x="370" y="613.0" width="1" height="18.4" fill="#f23645"/><rect x="369.6" y="615.1" width="1.8" height="3.8" fill="#f23645"/><rect x="372" y="615.5" width="1" height="13.4" fill="#f23645"/><rect x="371.6" y="618.9" width="1.8" height="4.0" fill="#f23645"/><rect x="373" y="612.1" width="1" height="20.6" fill="#089981"/><rect x="372.6" y="618.3" width="1.8" height="4.6" fill="#089981"/><rect x="374" y="615.2" width="1" height="16.1" fill="#f23645"/><rect x="373.6" y="618.3" width="1.8" height="6.5" fill="#f23645"/><rect x="375" y="615.3" width="1" height="20.4" fill="#f23645"/><rect x="374.6" y="624.8" width="1.8" height="7.3" fill="#f23645"/><rect x="377" y="615.8" width="1" height="24.6" fill="#089981"/><rect x="376.6" y="623.2" width="1.8" height="8.8" fill="#089981"/><rect x="378" y="620.0" width="1" height="23.0" fill="#f23645"/><rect x="377.6" y="623.2" width="1.8" height="1.7" fill="#f23645"/><rect x="379" y="621.2" width="1" height="12.6" fill="#f23645"/><rect x="378.6" y="624.9" width="1.8" height="4.7" fill="#f23645"/><rect x="380" y="617.5" width="1" height="16.4" fill="#089981"/><rect x="379.6" y="625.3" width="1.8" height="4.3" fill="#089981"/><rect x="382" y="623.2" width="1" height="11.6" fill="#f23645"/><rect x="381.6" y="625.3" width="1.8" height="3.7" fill="#f23645"/><rect x="383" y="614.8" width="1" height="14.4" fill="#089981"/><rect x="382.6" y="620.7" width="1.8" height="8.2" fill="#089981"/><rect x="384" y="616.1" width="1" height="12.7" fill="#f23645"/><rect x="383.6" y="620.7" width="1.8" height="7.2" fill="#f23645"/><rect x="386" y="615.6" width="1" height="14.1" fill="#089981"/><rect x="385.6" y="621.3" width="1.8" height="6.6" fill="#089981"/><rect x="387" y="619.3" width="1" height="11.6" fill="#f23645"/><rect x="386.6" y="621.3" width="1.8" height="5.4" fill="#f23645"/><rect x="388" y="618.7" width="1" height="13.0" fill="#f23645"/><rect x="387.6" y="626.7" width="1.8" height="1.0" fill="#f23645"/><rect x="389" y="622.7" width="1" height="8.6" fill="#f23645"/><rect x="388.6" y="627.5" width="1.8" height="1.1" fill="#f23645"/><rect x="391" y="625.0" width="1" height="4.8" fill="#089981"/><rect x="390.6" y="627.4" width="1.8" height="1.1" fill="#089981"/><rect x="392" y="621.5" width="1" height="8.9" fill="#089981"/><rect x="391.6" y="623.1" width="1.8" height="4.4" fill="#089981"/><rect x="393" y="620.6" width="1" height="10.4" fill="#f23645"/><rect x="392.6" y="623.1" width="1.8" height="2.4" fill="#f23645"/><rect x="394" y="619.5" width="1" height="8.6" fill="#089981"/><rect x="393.6" y="624.7" width="1.8" height="1.0" fill="#089981"/><rect x="396" y="316.3" width="1" height="299.1" fill="#089981"/><rect x="395.6" y="609.4" width="1.8" height="7.5" fill="#089981"/><rect x="397" y="414.4" width="1" height="82.8" fill="#089981"/><rect x="396.6" y="462.7" width="1.8" height="43.3" fill="#089981"/><rect x="398" y="428.7" width="1" height="38.1" fill="#089981"/><rect x="397.6" y="451.5" width="1.8" height="11.2" fill="#089981"/><rect x="399" y="434.9" width="1" height="27.8" fill="#089981"/><rect x="398.6" y="451.3" width="1.8" height="1.0" fill="#089981"/><rect x="401" y="416.7" width="1" height="43.0" fill="#089981"/><rect x="400.6" y="440.3" width="1.8" height="11.0" fill="#089981"/><rect x="402" y="398.5" width="1" height="47.5" fill="#089981"/><rect x="401.6" y="422.0" width="1.8" height="18.3" fill="#089981"/><rect x="403" y="369.0" width="1" height="62.0" fill="#089981"/><rect x="402.6" y="406.1" width="1.8" height="15.9" fill="#089981"/><rect x="405" y="373.0" width="1" height="49.2" fill="#f23645"/><rect x="404.6" y="406.1" width="1.8" height="9.5" fill="#f23645"/><rect x="406" y="408.5" width="1" height="32.6" fill="#f23645"/><rect x="405.6" y="415.6" width="1.8" height="14.3" fill="#f23645"/><rect x="407" y="429.2" width="1" height="15.8" fill="#f23645"/><rect x="406.6" y="429.9" width="1.8" height="14.5" fill="#f23645"/><rect x="408" y="437.1" width="1" height="24.3" fill="#f23645"/><rect x="407.6" y="444.4" width="1.8" height="11.1" fill="#f23645"/><rect x="410" y="445.0" width="1" height="26.9" fill="#f23645"/><rect x="409.6" y="455.6" width="1.8" height="7.2" fill="#f23645"/><rect x="411" y="456.8" width="1" height="23.1" fill="#f23645"/><rect x="410.6" y="462.8" width="1.8" height="8.9" fill="#f23645"/><rect x="412" y="457.2" width="1" height="26.2" fill="#089981"/><rect x="411.6" y="459.7" width="1.8" height="12.0" fill="#089981"/><rect x="413" y="455.3" width="1" height="22.9" fill="#f23645"/><rect x="412.6" y="459.7" width="1.8" height="7.7" fill="#f23645"/><rect x="415" y="459.2" width="1" height="12.1" fill="#089981"/><rect x="414.6" y="462.5" width="1.8" height="5.0" fill="#089981"/><rect x="416" y="453.0" width="1" height="29.0" fill="#f23645"/><rect x="415.6" y="462.5" width="1.8" height="9.6" fill="#f23645"/><rect x="417" y="455.9" width="1" height="38.5" fill="#089981"/><rect x="416.6" y="466.2" width="1.8" height="5.8" fill="#089981"/><rect x="418" y="463.5" width="1" height="35.4" fill="#f23645"/><rect x="417.6" y="466.2" width="1.8" height="1.6" fill="#f23645"/><rect x="420" y="470.4" width="1" height="28.1" fill="#f23645"/><rect x="419.6" y="467.9" width="1.8" height="16.4" fill="#f23645"/><rect x="421" y="484.2" width="1" height="20.2" fill="#f23645"/><rect x="420.6" y="484.3" width="1.8" height="3.4" fill="#f23645"/><rect x="422" y="487.3" width="1" height="24.3" fill="#f23645"/><rect x="421.6" y="487.7" width="1.8" height="22.4" fill="#f23645"/><rect x="424" y="503.8" width="1" height="15.5" fill="#f23645"/><rect x="423.6" y="510.1" width="1.8" height="6.7" fill="#f23645"/><rect x="425" y="501.7" width="1" height="30.7" fill="#f23645"/><rect x="424.6" y="516.8" width="1.8" height="8.3" fill="#f23645"/><rect x="426" y="507.8" width="1" height="31.3" fill="#f23645"/><rect x="425.6" y="525.1" width="1.8" height="1.7" fill="#f23645"/><rect x="427" y="511.4" width="1" height="26.0" fill="#f23645"/><rect x="426.6" y="526.9" width="1.8" height="8.9" fill="#f23645"/><rect x="429" y="524.8" width="1" height="11.3" fill="#089981"/><rect x="428.6" y="528.8" width="1.8" height="7.0" fill="#089981"/><rect x="430" y="511.5" width="1" height="18.5" fill="#089981"/><rect x="429.6" y="524.0" width="1.8" height="4.8" fill="#089981"/><rect x="431" y="509.4" width="1" height="17.5" fill="#089981"/><rect x="430.6" y="517.6" width="1.8" height="6.4" fill="#089981"/><rect x="432" y="513.4" width="1" height="9.3" fill="#f23645"/><rect x="431.6" y="517.6" width="1.8" height="2.2" fill="#f23645"/><rect x="434" y="514.4" width="1" height="10.1" fill="#f23645"/><rect x="433.6" y="519.8" width="1.8" height="3.9" fill="#f23645"/><rect x="435" y="516.7" width="1" height="10.3" fill="#f23645"/><rect x="434.6" y="523.7" width="1.8" height="2.3" fill="#f23645"/><rect x="436" y="518.2" width="1" height="13.4" fill="#f23645"/><rect x="435.6" y="526.0" width="1.8" height="4.7" fill="#f23645"/><rect x="437" y="525.4" width="1" height="14.2" fill="#f23645"/><rect x="436.6" y="530.7" width="1.8" height="6.3" fill="#f23645"/><rect x="439" y="536.3" width="1" height="21.7" fill="#f23645"/><rect x="438.6" y="537.0" width="1.8" height="18.8" fill="#f23645"/><rect x="440" y="551.0" width="1" height="100.0" fill="#f23645"/><rect x="439.6" y="555.8" width="1.8" height="18.4" fill="#f23645"/><rect x="441" y="564.4" width="1" height="32.6" fill="#f23645"/><rect x="440.6" y="574.3" width="1.8" height="17.6" fill="#f23645"/><rect x="442" y="575.4" width="1" height="24.7" fill="#f23645"/><rect x="441.6" y="591.9" width="1.8" height="4.9" fill="#f23645"/><rect x="444" y="574.3" width="1" height="27.0" fill="#089981"/><rect x="443.6" y="588.9" width="1.8" height="7.9" fill="#089981"/><rect x="445" y="578.8" width="1" height="16.8" fill="#089981"/><rect x="444.6" y="585.6" width="1.8" height="3.3" fill="#089981"/><rect x="446" y="583.3" width="1" height="13.9" fill="#f23645"/><rect x="445.6" y="585.6" width="1.8" height="4.5" fill="#f23645"/><rect x="448" y="584.8" width="1" height="18.1" fill="#f23645"/><rect x="447.6" y="590.1" width="1.8" height="7.0" fill="#f23645"/><rect x="449" y="587.9" width="1" height="15.3" fill="#f23645"/><rect x="448.6" y="597.1" width="1.8" height="2.8" fill="#f23645"/><rect x="450" y="587.2" width="1" height="15.5" fill="#089981"/><rect x="449.6" y="590.4" width="1.8" height="9.5" fill="#089981"/><rect x="451" y="586.3" width="1" height="8.0" fill="#f23645"/><rect x="450.6" y="590.4" width="1.8" height="1.6" fill="#f23645"/><rect x="453" y="590.1" width="1" height="11.6" fill="#f23645"/><rect x="452.6" y="592.0" width="1.8" height="1.0" fill="#f23645"/><rect x="454" y="576.0" width="1" height="17.0" fill="#089981"/><rect x="453.6" y="592.1" width="1.8" height="1.0" fill="#089981"/><rect x="455" y="584.4" width="1" height="17.6" fill="#f23645"/><rect x="454.6" y="592.1" width="1.8" height="7.5" fill="#f23645"/><rect x="456" y="593.9" width="1" height="15.4" fill="#f23645"/><rect x="455.6" y="599.6" width="1.8" height="5.4" fill="#f23645"/><rect x="458" y="602.0" width="1" height="11.3" fill="#f23645"/><rect x="457.6" y="605.0" width="1.8" height="7.5" fill="#f23645"/><rect x="459" y="602.5" width="1" height="12.5" fill="#089981"/><rect x="458.6" y="603.6" width="1.8" height="8.9" fill="#089981"/><rect x="460" y="600.1" width="1" height="13.6" fill="#f23645"/><rect x="459.6" y="603.6" width="1.8" height="7.4" fill="#f23645"/><rect x="461" y="601.6" width="1" height="12.2" fill="#089981"/><rect x="460.6" y="605.8" width="1.8" height="5.1" fill="#089981"/><rect x="463" y="603.5" width="1" height="9.9" fill="#f23645"/><rect x="462.6" y="605.8" width="1.8" height="6.0" fill="#f23645"/><rect x="464" y="605.0" width="1" height="8.8" fill="#f23645"/><rect x="463.6" y="611.8" width="1.8" height="1.8" fill="#f23645"/><rect x="465" y="605.4" width="1" height="10.0" fill="#089981"/><rect x="464.6" y="610.6" width="1.8" height="3.0" fill="#089981"/><rect x="467" y="606.3" width="1" height="10.4" fill="#f23645"/><rect x="466.6" y="610.6" width="1.8" height="2.7" fill="#f23645"/><rect x="468" y="605.9" width="1" height="11.6" fill="#089981"/><rect x="467.6" y="610.0" width="1.8" height="3.3" fill="#089981"/><rect x="469" y="607.7" width="1" height="11.7" fill="#f23645"/><rect x="468.6" y="610.0" width="1.8" height="5.9" fill="#f23645"/><rect x="470" y="611.2" width="1" height="9.0" fill="#089981"/><rect x="469.6" y="614.2" width="1.8" height="1.7" fill="#089981"/><rect x="472" y="613.1" width="1" height="22.4" fill="#f23645"/><rect x="471.6" y="614.2" width="1.8" height="9.1" fill="#f23645"/><rect x="473" y="618.7" width="1" height="10.6" fill="#f23645"/><rect x="472.6" y="623.3" width="1.8" height="1.6" fill="#f23645"/><rect x="474" y="612.5" width="1" height="12.1" fill="#089981"/><rect x="473.6" y="614.9" width="1.8" height="10.1" fill="#089981"/><rect x="475" y="612.0" width="1" height="8.5" fill="#f23645"/><rect x="474.6" y="614.9" width="1.8" height="1.0" fill="#f23645"/><rect x="477" y="614.2" width="1" height="2.6" fill="#089981"/><rect x="476.6" y="615.7" width="1.8" height="1.0" fill="#089981"/><rect x="478" y="611.9" width="1" height="5.3" fill="#089981"/><rect x="477.6" y="613.8" width="1.8" height="1.8" fill="#089981"/><rect x="479" y="605.6" width="1" height="9.6" fill="#089981"/><rect x="478.6" y="607.6" width="1.8" height="6.2" fill="#089981"/><rect x="480" y="603.5" width="1" height="6.2" fill="#089981"/><rect x="479.6" y="606.6" width="1.8" height="1.0" fill="#089981"/><rect x="482" y="595.7" width="1" height="12.8" fill="#089981"/><rect x="481.6" y="599.0" width="1.8" height="7.6" fill="#089981"/><rect x="483" y="596.8" width="1" height="7.7" fill="#089981"/><rect x="482.6" y="598.4" width="1.8" height="1.0" fill="#089981"/><rect x="484" y="596.2" width="1" height="13.2" fill="#f23645"/><rect x="483.6" y="598.4" width="1.8" height="8.9" fill="#f23645"/><rect x="486" y="599.0" width="1" height="12.5" fill="#089981"/><rect x="485.6" y="602.1" width="1.8" height="5.2" fill="#089981"/><rect x="487" y="600.8" width="1" height="7.1" fill="#f23645"/><rect x="486.6" y="602.1" width="1.8" height="5.0" fill="#f23645"/><rect x="488" y="604.6" width="1" height="6.7" fill="#089981"/><rect x="487.6" y="606.5" width="1.8" height="1.0" fill="#089981"/><rect x="489" y="604.4" width="1" height="6.3" fill="#089981"/><rect x="488.6" y="605.8" width="1.8" height="1.0" fill="#089981"/><rect x="491" y="600.5" width="1" height="8.6" fill="#089981"/><rect x="490.6" y="601.1" width="1.8" height="4.7" fill="#089981"/><rect x="492" y="596.3" width="1" height="11.1" fill="#089981"/><rect x="491.6" y="598.1" width="1.8" height="3.0" fill="#089981"/><rect x="493" y="577.0" width="1" height="27.1" fill="#089981"/><rect x="492.6" y="596.3" width="1.8" height="1.8" fill="#089981"/><rect x="494" y="594.2" width="1" height="5.9" fill="#089981"/><rect x="493.6" y="596.3" width="1.8" height="1.0" fill="#089981"/><rect x="496" y="588.7" width="1" height="12.6" fill="#f23645"/><rect x="495.6" y="596.3" width="1.8" height="1.0" fill="#f23645"/><rect x="497" y="591.5" width="1" height="8.5" fill="#089981"/><rect x="496.6" y="596.8" width="1.8" height="1.0" fill="#089981"/><rect x="498" y="586.4" width="1" height="11.0" fill="#089981"/><rect x="497.6" y="590.0" width="1.8" height="6.8" fill="#089981"/><rect x="499" y="587.2" width="1" height="13.4" fill="#f23645"/><rect x="498.6" y="590.0" width="1.8" height="2.7" fill="#f23645"/><rect x="501" y="590.6" width="1" height="13.1" fill="#f23645"/><rect x="500.6" y="592.7" width="1.8" height="8.3" fill="#f23645"/><rect x="502" y="593.2" width="1" height="12.2" fill="#089981"/><rect x="501.6" y="597.7" width="1.8" height="3.2" fill="#089981"/><rect x="503" y="596.6" width="1" height="14.3" fill="#f23645"/><rect x="502.6" y="597.7" width="1.8" height="5.3" fill="#f23645"/><rect x="505" y="601.1" width="1" height="10.9" fill="#089981"/><rect x="504.6" y="602.1" width="1.8" height="1.0" fill="#089981"/><rect x="506" y="599.7" width="1" height="3.8" fill="#f23645"/><rect x="505.6" y="602.1" width="1.8" height="1.0" fill="#f23645"/><rect x="507" y="602.4" width="1" height="10.3" fill="#f23645"/><rect x="506.6" y="602.3" width="1.8" height="8.3" fill="#f23645"/><rect x="508" y="610.1" width="1" height="9.4" fill="#f23645"/><rect x="507.6" y="610.6" width="1.8" height="5.5" fill="#f23645"/><rect x="510" y="613.2" width="1" height="5.0" fill="#089981"/><rect x="509.6" y="614.8" width="1.8" height="1.2" fill="#089981"/><rect x="511" y="613.1" width="1" height="10.7" fill="#f23645"/><rect x="510.6" y="614.8" width="1.8" height="5.3" fill="#f23645"/><rect x="512" y="610.9" width="1" height="12.9" fill="#f23645"/><rect x="511.6" y="620.1" width="1.8" height="1.3" fill="#f23645"/><rect x="513" y="612.8" width="1" height="10.5" fill="#089981"/><rect x="512.6" y="617.5" width="1.8" height="3.9" fill="#089981"/><rect x="515" y="609.5" width="1" height="12.2" fill="#089981"/><rect x="514.6" y="611.9" width="1.8" height="5.6" fill="#089981"/><rect x="516" y="604.7" width="1" height="10.9" fill="#f23645"/><rect x="515.6" y="611.9" width="1.8" height="2.7" fill="#f23645"/><rect x="517" y="600.3" width="1" height="15.5" fill="#089981"/><rect x="516.6" y="613.3" width="1.8" height="1.3" fill="#089981"/><rect x="518" y="603.2" width="1" height="13.4" fill="#089981"/><rect x="517.6" y="609.2" width="1.8" height="4.1" fill="#089981"/><rect x="520" y="601.2" width="1" height="18.9" fill="#089981"/><rect x="519.6" y="603.4" width="1.8" height="5.8" fill="#089981"/><rect x="521" y="590.5" width="1" height="18.5" fill="#089981"/><rect x="520.6" y="599.6" width="1.8" height="3.9" fill="#089981"/><rect x="522" y="590.5" width="1" height="10.9" fill="#089981"/><rect x="521.6" y="595.0" width="1.8" height="4.6" fill="#089981"/><rect x="523" y="585.5" width="1" height="13.2" fill="#f23645"/><rect x="522.6" y="595.0" width="1.8" height="1.0" fill="#f23645"/><rect x="525" y="578.4" width="1" height="13.3" fill="#089981"/><rect x="524.6" y="587.0" width="1.8" height="6.4" fill="#089981"/><rect x="526" y="555.8" width="1" height="29.0" fill="#089981"/><rect x="525.6" y="574.0" width="1.8" height="12.7" fill="#089981"/><rect x="527" y="568.8" width="1" height="6.7" fill="#089981"/><rect x="526.6" y="571.4" width="1.8" height="2.6" fill="#089981"/><rect x="529" y="564.0" width="1" height="9.2" fill="#089981"/><rect x="528.6" y="567.9" width="1.8" height="3.5" fill="#089981"/><rect x="530" y="557.8" width="1" height="18.2" fill="#f23645"/><rect x="529.6" y="567.9" width="1.8" height="2.9" fill="#f23645"/><rect x="531" y="552.6" width="1" height="19.8" fill="#089981"/><rect x="530.6" y="563.2" width="1.8" height="7.5" fill="#089981"/><rect x="532" y="543.5" width="1" height="20.6" fill="#089981"/><rect x="531.6" y="547.6" width="1.8" height="15.7" fill="#089981"/><rect x="534" y="541.3" width="1" height="12.3" fill="#089981"/><rect x="533.6" y="542.2" width="1.8" height="5.3" fill="#089981"/><rect x="535" y="532.6" width="1" height="17.4" fill="#089981"/><rect x="534.6" y="539.6" width="1.8" height="2.6" fill="#089981"/><rect x="536" y="536.6" width="1" height="8.9" fill="#f23645"/><rect x="535.6" y="539.6" width="1.8" height="1.0" fill="#f23645"/><rect x="537" y="525.1" width="1" height="18.5" fill="#089981"/><rect x="536.6" y="528.4" width="1.8" height="11.2" fill="#089981"/><rect x="539" y="517.5" width="1" height="14.8" fill="#089981"/><rect x="538.6" y="524.9" width="1.8" height="3.6" fill="#089981"/><rect x="540" y="505.9" width="1" height="28.5" fill="#089981"/><rect x="539.6" y="514.0" width="1.8" height="10.9" fill="#089981"/><rect x="541" y="477.2" width="1" height="32.8" fill="#089981"/><rect x="540.6" y="490.2" width="1.8" height="22.3" fill="#089981"/><rect x="542" y="451.0" width="1" height="43.9" fill="#f23645"/><rect x="541.6" y="490.2" width="1.8" height="1.0" fill="#f23645"/><rect x="544" y="467.4" width="1" height="28.5" fill="#089981"/><rect x="543.6" y="473.8" width="1.8" height="17.3" fill="#089981"/><rect x="545" y="470.5" width="1" height="19.9" fill="#f23645"/><rect x="544.6" y="473.8" width="1.8" height="6.0" fill="#f23645"/><rect x="546" y="476.3" width="1" height="17.5" fill="#f23645"/><rect x="545.6" y="479.7" width="1.8" height="3.9" fill="#f23645"/><rect x="548" y="481.0" width="1" height="19.1" fill="#f23645"/><rect x="547.6" y="483.7" width="1.8" height="8.5" fill="#f23645"/><rect x="549" y="486.8" width="1" height="18.3" fill="#f23645"/><rect x="548.6" y="492.2" width="1.8" height="10.4" fill="#f23645"/><rect x="550" y="482.6" width="1" height="22.6" fill="#089981"/><rect x="549.6" y="489.4" width="1.8" height="13.2" fill="#089981"/><rect x="551" y="439.0" width="1" height="66.3" fill="#089981"/><rect x="550.6" y="485.5" width="1.8" height="4.0" fill="#089981"/><rect x="553" y="490.0" width="1" height="13.1" fill="#f23645"/><rect x="552.6" y="488.6" width="1.8" height="12.6" fill="#f23645"/><rect x="554" y="504.8" width="1" height="19.7" fill="#f23645"/><rect x="553.6" y="503.5" width="1.8" height="13.0" fill="#f23645"/><rect x="555" y="519.6" width="1" height="16.1" fill="#f23645"/><rect x="554.6" y="518.5" width="1.8" height="12.4" fill="#f23645"/><rect x="556" y="527.3" width="1" height="17.6" fill="#f23645"/><rect x="555.6" y="530.9" width="1.8" height="6.8" fill="#f23645"/><rect x="558" y="528.5" width="1" height="17.9" fill="#089981"/><rect x="557.6" y="532.0" width="1.8" height="5.7" fill="#089981"/><rect x="559" y="525.7" width="1" height="24.5" fill="#f23645"/><rect x="558.6" y="532.0" width="1.8" height="12.7" fill="#f23645"/><rect x="560" y="537.4" width="1" height="16.6" fill="#f23645"/><rect x="559.6" y="544.7" width="1.8" height="6.2" fill="#f23645"/><rect x="561" y="530.1" width="1" height="23.1" fill="#089981"/><rect x="560.6" y="542.3" width="1.8" height="8.6" fill="#089981"/><rect x="563" y="532.8" width="1" height="24.1" fill="#f23645"/><rect x="562.6" y="542.3" width="1.8" height="7.3" fill="#f23645"/><rect x="564" y="539.6" width="1" height="13.7" fill="#089981"/><rect x="563.6" y="542.8" width="1.8" height="6.8" fill="#089981"/><rect x="565" y="531.7" width="1" height="15.9" fill="#089981"/><rect x="564.6" y="534.2" width="1.8" height="8.6" fill="#089981"/><rect x="567" y="528.4" width="1" height="14.8" fill="#f23645"/><rect x="566.6" y="534.2" width="1.8" height="5.9" fill="#f23645"/><rect x="568" y="526.9" width="1" height="16.0" fill="#089981"/><rect x="567.6" y="533.4" width="1.8" height="6.7" fill="#089981"/><rect x="569" y="526.0" width="1" height="14.7" fill="#f23645"/><rect x="568.6" y="533.4" width="1.8" height="1.3" fill="#f23645"/><rect x="570" y="525.1" width="1" height="19.7" fill="#089981"/><rect x="569.6" y="530.9" width="1.8" height="3.7" fill="#089981"/><rect x="572" y="529.6" width="1" height="12.1" fill="#f23645"/><rect x="571.6" y="530.9" width="1.8" height="1.6" fill="#f23645"/><rect x="573" y="527.4" width="1" height="15.9" fill="#089981"/><rect x="572.6" y="529.1" width="1.8" height="3.4" fill="#089981"/><rect x="574" y="528.4" width="1" height="17.1" fill="#f23645"/><rect x="573.6" y="529.1" width="1.8" height="8.7" fill="#f23645"/><rect x="575" y="530.6" width="1" height="12.6" fill="#f23645"/><rect x="574.6" y="537.8" width="1.8" height="2.2" fill="#f23645"/><rect x="577" y="527.7" width="1" height="20.5" fill="#f23645"/><rect x="576.6" y="540.0" width="1.8" height="4.6" fill="#f23645"/><rect x="578" y="518.0" width="1" height="29.4" fill="#089981"/><rect x="577.6" y="526.5" width="1.8" height="18.1" fill="#089981"/><rect x="579" y="517.9" width="1" height="16.1" fill="#089981"/><rect x="578.6" y="521.8" width="1.8" height="4.7" fill="#089981"/><rect x="580" y="500.8" width="1" height="20.9" fill="#089981"/><rect x="579.6" y="508.3" width="1.8" height="13.5" fill="#089981"/><rect x="582" y="499.2" width="1" height="13.9" fill="#f23645"/><rect x="581.6" y="508.3" width="1.8" height="2.5" fill="#f23645"/><rect x="583" y="499.5" width="1" height="13.8" fill="#089981"/><rect x="582.6" y="505.3" width="1.8" height="5.6" fill="#089981"/><rect x="584" y="473.0" width="1" height="35.2" fill="#089981"/><rect x="583.6" y="504.4" width="1.8" height="1.0" fill="#089981"/><rect x="585" y="500.3" width="1" height="19.6" fill="#f23645"/><rect x="584.6" y="504.4" width="1.8" height="14.1" fill="#f23645"/><rect x="587" y="512.7" width="1" height="9.2" fill="#f23645"/><rect x="586.6" y="518.5" width="1.8" height="1.0" fill="#f23645"/><rect x="588" y="514.2" width="1" height="8.9" fill="#089981"/><rect x="587.6" y="517.4" width="1.8" height="1.4" fill="#089981"/><rect x="589" y="510.6" width="1" height="10.6" fill="#089981"/><rect x="588.6" y="513.7" width="1.8" height="3.7" fill="#089981"/><rect x="591" y="513.2" width="1" height="7.6" fill="#f23645"/><rect x="590.6" y="513.7" width="1.8" height="3.6" fill="#f23645"/><rect x="592" y="518.3" width="1" height="16.2" fill="#f23645"/><rect x="591.6" y="517.4" width="1.8" height="13.4" fill="#f23645"/><rect x="593" y="523.4" width="1" height="18.5" fill="#f23645"/><rect x="592.6" y="530.7" width="1.8" height="1.0" fill="#f23645"/><rect x="594" y="527.7" width="1" height="15.9" fill="#089981"/><rect x="593.6" y="531.6" width="1.8" height="1.0" fill="#089981"/><rect x="596" y="527.0" width="1" height="27.0" fill="#f23645"/><rect x="595.6" y="531.6" width="1.8" height="13.1" fill="#f23645"/><rect x="597" y="525.2" width="1" height="21.8" fill="#089981"/><rect x="596.6" y="532.7" width="1.8" height="12.1" fill="#089981"/><rect x="598" y="523.6" width="1" height="15.5" fill="#089981"/><rect x="597.6" y="528.5" width="1.8" height="4.2" fill="#089981"/><rect x="599" y="525.1" width="1" height="7.4" fill="#089981"/><rect x="598.6" y="528.0" width="1.8" height="1.0" fill="#089981"/><rect x="601" y="523.0" width="1" height="14.5" fill="#f23645"/><rect x="600.6" y="528.0" width="1.8" height="1.0" fill="#f23645"/><rect x="602" y="525.3" width="1" height="10.6" fill="#f23645"/><rect x="601.6" y="528.3" width="1.8" height="2.5" fill="#f23645"/><rect x="603" y="520.3" width="1" height="16.7" fill="#089981"/><rect x="602.6" y="524.7" width="1.8" height="6.1" fill="#089981"/><rect x="604" y="518.1" width="1" height="15.0" fill="#f23645"/><rect x="603.6" y="524.7" width="1.8" height="6.5" fill="#f23645"/><rect x="606" y="512.8" width="1" height="21.3" fill="#089981"/><rect x="605.6" y="517.6" width="1.8" height="13.5" fill="#089981"/><rect x="607" y="503.0" width="1" height="30.7" fill="#f23645"/><rect x="606.6" y="517.6" width="1.8" height="5.4" fill="#f23645"/><rect x="608" y="520.4" width="1" height="17.0" fill="#f23645"/><rect x="607.6" y="523.0" width="1.8" height="4.2" fill="#f23645"/><rect x="610" y="526.4" width="1" height="7.2" fill="#f23645"/><rect x="609.6" y="527.3" width="1.8" height="4.2" fill="#f23645"/><rect x="611" y="520.5" width="1" height="15.0" fill="#089981"/><rect x="610.6" y="525.1" width="1.8" height="6.4" fill="#089981"/><rect x="612" y="514.0" width="1" height="21.8" fill="#089981"/><rect x="611.6" y="520.6" width="1.8" height="4.5" fill="#089981"/><rect x="613" y="515.0" width="1" height="10.6" fill="#f23645"/><rect x="612.6" y="520.6" width="1.8" height="3.5" fill="#f23645"/><rect x="615" y="520.4" width="1" height="22.0" fill="#f23645"/><rect x="614.6" y="524.1" width="1.8" height="8.5" fill="#f23645"/><rect x="616" y="529.5" width="1" height="76.5" fill="#f23645"/><rect x="615.6" y="532.6" width="1.8" height="1.0" fill="#f23645"/><rect x="617" y="540.6" width="1" height="39.8" fill="#f23645"/><rect x="616.6" y="537.4" width="1.8" height="33.2" fill="#f23645"/><rect x="618" y="548.5" width="1" height="23.5" fill="#089981"/><rect x="617.6" y="563.5" width="1.8" height="7.1" fill="#089981"/><rect x="620" y="547.8" width="1" height="22.9" fill="#089981"/><rect x="619.6" y="559.8" width="1.8" height="3.6" fill="#089981"/><rect x="621" y="554.6" width="1" height="16.7" fill="#f23645"/><rect x="620.6" y="559.8" width="1.8" height="3.8" fill="#f23645"/><rect x="622" y="550.1" width="1" height="20.6" fill="#089981"/><rect x="621.6" y="561.6" width="1.8" height="2.1" fill="#089981"/><rect x="623" y="548.6" width="1" height="19.2" fill="#089981"/><rect x="622.6" y="561.0" width="1.8" height="1.0" fill="#089981"/><rect x="625" y="544.1" width="1" height="18.2" fill="#089981"/><rect x="624.6" y="555.4" width="1.8" height="5.7" fill="#089981"/><rect x="626" y="544.8" width="1" height="13.9" fill="#089981"/><rect x="625.6" y="549.4" width="1.8" height="6.0" fill="#089981"/><rect x="627" y="547.2" width="1" height="18.0" fill="#f23645"/><rect x="626.6" y="549.4" width="1.8" height="9.6" fill="#f23645"/><rect x="629" y="553.1" width="1" height="16.3" fill="#f23645"/><rect x="628.6" y="558.9" width="1.8" height="6.2" fill="#f23645"/><rect x="630" y="553.7" width="1" height="15.3" fill="#089981"/><rect x="629.6" y="560.8" width="1.8" height="4.3" fill="#089981"/><rect x="631" y="549.8" width="1" height="18.4" fill="#089981"/><rect x="630.6" y="556.3" width="1.8" height="4.5" fill="#089981"/><rect x="632" y="555.5" width="1" height="21.2" fill="#f23645"/><rect x="631.6" y="556.3" width="1.8" height="16.2" fill="#f23645"/><rect x="634" y="565.4" width="1" height="20.0" fill="#089981"/><rect x="633.6" y="568.4" width="1.8" height="4.1" fill="#089981"/><rect x="635" y="566.1" width="1" height="14.1" fill="#f23645"/><rect x="634.6" y="568.4" width="1.8" height="1.7" fill="#f23645"/><rect x="636" y="568.3" width="1" height="23.2" fill="#f23645"/><rect x="635.6" y="570.1" width="1.8" height="2.7" fill="#f23645"/><rect x="637" y="573.4" width="1" height="18.0" fill="#f23645"/><rect x="636.6" y="572.8" width="1.8" height="15.9" fill="#f23645"/><rect x="639" y="586.0" width="1" height="6.8" fill="#f23645"/><rect x="638.6" y="588.7" width="1.8" height="2.7" fill="#f23645"/><rect x="640" y="587.5" width="1" height="17.5" fill="#f23645"/><rect x="639.6" y="591.4" width="1.8" height="7.8" fill="#f23645"/><rect x="641" y="595.0" width="1" height="14.1" fill="#089981"/><rect x="640.6" y="596.5" width="1.8" height="2.6" fill="#089981"/><rect x="642" y="590.1" width="1" height="17.9" fill="#089981"/><rect x="641.6" y="593.0" width="1.8" height="3.6" fill="#089981"/><rect x="644" y="582.5" width="1" height="21.7" fill="#089981"/><rect x="643.6" y="588.4" width="1.8" height="4.5" fill="#089981"/><rect x="645" y="584.1" width="1" height="13.9" fill="#f23645"/><rect x="644.6" y="588.4" width="1.8" height="1.0" fill="#f23645"/><rect x="646" y="585.4" width="1" height="9.8" fill="#f23645"/><rect x="645.6" y="589.2" width="1.8" height="4.0" fill="#f23645"/><rect x="648" y="587.8" width="1" height="23.9" fill="#f23645"/><rect x="647.6" y="593.1" width="1.8" height="7.5" fill="#f23645"/><rect x="649" y="595.3" width="1" height="12.8" fill="#f23645"/><rect x="648.6" y="600.7" width="1.8" height="2.4" fill="#f23645"/><rect x="650" y="595.5" width="1" height="23.5" fill="#089981"/><rect x="649.6" y="599.6" width="1.8" height="3.5" fill="#089981"/><rect x="651" y="597.6" width="1" height="6.7" fill="#089981"/><rect x="650.6" y="598.4" width="1.8" height="1.2" fill="#089981"/><rect x="653" y="594.5" width="1" height="13.5" fill="#089981"/><rect x="652.6" y="596.3" width="1.8" height="2.0" fill="#089981"/><rect x="654" y="595.1" width="1" height="7.0" fill="#f23645"/><rect x="653.6" y="596.3" width="1.8" height="1.5" fill="#f23645"/><rect x="655" y="595.4" width="1" height="9.5" fill="#f23645"/><rect x="654.6" y="597.8" width="1.8" height="1.4" fill="#f23645"/><rect x="656" y="596.5" width="1" height="5.1" fill="#089981"/><rect x="655.6" y="598.4" width="1.8" height="1.0" fill="#089981"/><rect x="658" y="594.2" width="1" height="10.0" fill="#089981"/><rect x="657.6" y="595.2" width="1.8" height="3.2" fill="#089981"/><rect x="659" y="590.8" width="1" height="11.5" fill="#f23645"/><rect x="658.6" y="595.2" width="1.8" height="3.7" fill="#f23645"/><rect x="660" y="589.6" width="1" height="10.9" fill="#089981"/><rect x="659.6" y="592.5" width="1.8" height="6.5" fill="#089981"/><rect x="661" y="589.1" width="1" height="9.6" fill="#f23645"/><rect x="660.6" y="592.5" width="1.8" height="4.5" fill="#f23645"/><rect x="663" y="596.0" width="1" height="3.2" fill="#089981"/><rect x="662.6" y="596.8" width="1.8" height="1.0" fill="#089981"/><rect x="664" y="584.0" width="1" height="13.6" fill="#089981"/><rect x="663.6" y="587.5" width="1.8" height="9.3" fill="#089981"/><rect x="665" y="583.1" width="1" height="5.8" fill="#089981"/><rect x="664.6" y="587.5" width="1.8" height="1.0" fill="#089981"/><rect x="666" y="580.5" width="1" height="11.4" fill="#f23645"/><rect x="665.6" y="587.5" width="1.8" height="1.0" fill="#f23645"/><rect x="668" y="571.4" width="1" height="17.9" fill="#089981"/><rect x="667.6" y="575.3" width="1.8" height="12.7" fill="#089981"/><rect x="669" y="556.0" width="1" height="25.9" fill="#089981"/><rect x="668.6" y="568.9" width="1.8" height="6.4" fill="#089981"/><rect x="670" y="561.6" width="1" height="15.4" fill="#089981"/><rect x="669.6" y="563.5" width="1.8" height="5.4" fill="#089981"/><rect x="672" y="559.1" width="1" height="12.9" fill="#f23645"/><rect x="671.6" y="563.5" width="1.8" height="5.0" fill="#f23645"/><rect x="673" y="565.9" width="1" height="9.9" fill="#f23645"/><rect x="672.6" y="568.6" width="1.8" height="3.5" fill="#f23645"/><rect x="674" y="563.6" width="1" height="16.8" fill="#f23645"/><rect x="673.6" y="572.0" width="1.8" height="6.5" fill="#f23645"/><rect x="675" y="565.0" width="1" height="14.6" fill="#089981"/><rect x="674.6" y="567.8" width="1.8" height="10.7" fill="#089981"/><rect x="677" y="564.8" width="1" height="11.9" fill="#f23645"/><rect x="676.6" y="567.8" width="1.8" height="1.0" fill="#f23645"/><rect x="678" y="564.0" width="1" height="19.6" fill="#f23645"/><rect x="677.6" y="567.9" width="1.8" height="6.3" fill="#f23645"/><rect x="679" y="567.3" width="1" height="15.7" fill="#089981"/><rect x="678.6" y="571.7" width="1.8" height="2.5" fill="#089981"/><rect x="680" y="570.7" width="1" height="16.2" fill="#f23645"/><rect x="679.6" y="571.7" width="1.8" height="9.1" fill="#f23645"/><rect x="682" y="579.3" width="1" height="5.9" fill="#f23645"/><rect x="681.6" y="580.8" width="1.8" height="2.9" fill="#f23645"/><rect x="683" y="580.4" width="1" height="8.2" fill="#f23645"/><rect x="682.6" y="583.7" width="1.8" height="1.3" fill="#f23645"/><rect x="684" y="573.0" width="1" height="15.0" fill="#089981"/><rect x="683.6" y="577.6" width="1.8" height="7.3" fill="#089981"/><rect x="685" y="558.8" width="1" height="23.5" fill="#089981"/><rect x="684.6" y="561.5" width="1.8" height="16.1" fill="#089981"/><rect x="687" y="542.3" width="1" height="27.6" fill="#089981"/><rect x="686.6" y="552.7" width="1.8" height="8.8" fill="#089981"/><rect x="688" y="536.2" width="1" height="30.4" fill="#089981"/><rect x="687.6" y="549.0" width="1.8" height="3.7" fill="#089981"/><rect x="689" y="531.7" width="1" height="21.4" fill="#089981"/><rect x="688.6" y="534.8" width="1.8" height="14.2" fill="#089981"/><rect x="691" y="515.3" width="1" height="23.3" fill="#089981"/><rect x="690.6" y="517.7" width="1.8" height="17.0" fill="#089981"/><rect x="692" y="510.1" width="1" height="13.9" fill="#089981"/><rect x="691.6" y="513.5" width="1.8" height="4.2" fill="#089981"/><rect x="693" y="510.3" width="1" height="8.0" fill="#089981"/><rect x="692.6" y="512.7" width="1.8" height="1.0" fill="#089981"/><rect x="694" y="511.8" width="1" height="64.2" fill="#f23645"/><rect x="693.6" y="512.7" width="1.8" height="21.1" fill="#f23645"/><rect x="696" y="523.1" width="1" height="12.0" fill="#089981"/><rect x="695.6" y="531.9" width="1.8" height="1.9" fill="#089981"/><rect x="697" y="521.5" width="1" height="13.7" fill="#089981"/><rect x="696.6" y="522.5" width="1.8" height="9.3" fill="#089981"/><rect x="698" y="509.1" width="1" height="19.2" fill="#089981"/><rect x="697.6" y="514.6" width="1.8" height="7.9" fill="#089981"/><rect x="699" y="503.9" width="1" height="34.9" fill="#089981"/><rect x="698.6" y="511.4" width="1.8" height="3.3" fill="#089981"/><rect x="701" y="477.5" width="1" height="40.2" fill="#089981"/><rect x="700.6" y="482.5" width="1.8" height="28.9" fill="#089981"/><rect x="702" y="441.0" width="1" height="49.1" fill="#089981"/><rect x="701.6" y="479.6" width="1.8" height="2.9" fill="#089981"/><rect x="703" y="465.0" width="1" height="30.3" fill="#f23645"/><rect x="702.6" y="479.6" width="1.8" height="10.7" fill="#f23645"/><rect x="704" y="476.7" width="1" height="18.7" fill="#f23645"/><rect x="703.6" y="490.2" width="1.8" height="1.0" fill="#f23645"/><rect x="706" y="469.0" width="1" height="27.5" fill="#089981"/><rect x="705.6" y="486.6" width="1.8" height="4.1" fill="#089981"/><rect x="707" y="485.4" width="1" height="16.5" fill="#f23645"/><rect x="706.6" y="486.6" width="1.8" height="10.9" fill="#f23645"/><rect x="708" y="495.9" width="1" height="18.1" fill="#f23645"/><rect x="707.6" y="497.6" width="1.8" height="4.5" fill="#f23645"/><rect x="710" y="500.9" width="1" height="21.9" fill="#f23645"/><rect x="709.6" y="502.1" width="1.8" height="17.7" fill="#f23645"/><rect x="711" y="499.8" width="1" height="33.2" fill="#089981"/><rect x="710.6" y="510.7" width="1.8" height="9.1" fill="#089981"/><rect x="712" y="502.9" width="1" height="58.1" fill="#f23645"/><rect x="711.6" y="510.7" width="1.8" height="16.3" fill="#f23645"/><rect x="713" y="513.4" width="1" height="24.2" fill="#f23645"/><rect x="712.6" y="527.1" width="1.8" height="6.1" fill="#f23645"/><rect x="715" y="497.1" width="1" height="31.7" fill="#089981"/><rect x="714.6" y="504.9" width="1.8" height="26.3" fill="#089981"/><rect x="716" y="493.6" width="1" height="21.9" fill="#089981"/><rect x="715.6" y="495.0" width="1.8" height="9.8" fill="#089981"/><rect x="717" y="493.5" width="1" height="24.0" fill="#f23645"/><rect x="716.6" y="495.0" width="1.8" height="6.7" fill="#f23645"/><rect x="718" y="495.3" width="1" height="17.5" fill="#089981"/><rect x="717.6" y="501.3" width="1.8" height="1.0" fill="#089981"/><rect x="720" y="496.9" width="1" height="17.4" fill="#f23645"/><rect x="719.6" y="501.3" width="1.8" height="11.0" fill="#f23645"/><rect x="721" y="499.9" width="1" height="22.7" fill="#f23645"/><rect x="720.6" y="512.3" width="1.8" height="1.0" fill="#f23645"/><rect x="722" y="504.4" width="1" height="16.4" fill="#f23645"/><rect x="721.6" y="512.7" width="1.8" height="1.0" fill="#f23645"/><rect x="723" y="512.1" width="1" height="8.7" fill="#f23645"/><rect x="722.6" y="513.1" width="1.8" height="5.6" fill="#f23645"/><rect x="725" y="515.9" width="1" height="13.6" fill="#f23645"/><rect x="724.6" y="518.7" width="1.8" height="5.2" fill="#f23645"/><rect x="726" y="514.7" width="1" height="23.6" fill="#089981"/><rect x="725.6" y="518.8" width="1.8" height="5.2" fill="#089981"/><rect x="727" y="515.7" width="1" height="13.1" fill="#f23645"/><rect x="726.6" y="518.8" width="1.8" height="7.9" fill="#f23645"/><rect x="728" y="518.3" width="1" height="20.4" fill="#089981"/><rect x="727.6" y="523.3" width="1.8" height="3.4" fill="#089981"/><rect x="730" y="519.8" width="1" height="20.0" fill="#f23645"/><rect x="729.6" y="523.3" width="1.8" height="6.8" fill="#f23645"/><rect x="731" y="524.4" width="1" height="41.6" fill="#f23645"/><rect x="730.6" y="530.1" width="1.8" height="2.0" fill="#f23645"/><rect x="732" y="528.9" width="1" height="22.0" fill="#f23645"/><rect x="731.6" y="532.1" width="1.8" height="10.1" fill="#f23645"/><rect x="734" y="531.7" width="1" height="12.6" fill="#089981"/><rect x="733.6" y="538.5" width="1.8" height="3.8" fill="#089981"/><rect x="735" y="531.9" width="1" height="16.4" fill="#f23645"/><rect x="734.6" y="538.5" width="1.8" height="2.9" fill="#f23645"/><rect x="736" y="532.1" width="1" height="10.2" fill="#089981"/><rect x="735.6" y="537.9" width="1.8" height="3.5" fill="#089981"/><rect x="737" y="531.2" width="1" height="12.0" fill="#089981"/><rect x="736.6" y="534.2" width="1.8" height="3.7" fill="#089981"/><rect x="739" y="526.4" width="1" height="18.0" fill="#089981"/><rect x="738.6" y="528.4" width="1.8" height="5.8" fill="#089981"/><rect x="740" y="521.7" width="1" height="15.5" fill="#089981"/><rect x="739.6" y="523.8" width="1.8" height="4.5" fill="#089981"/><rect x="741" y="525.8" width="1" height="124.2" fill="#f23645"/><rect x="740.6" y="523.8" width="1.8" height="29.3" fill="#f23645"/><rect x="742" y="574.7" width="1" height="43.1" fill="#f23645"/><rect x="741.6" y="570.6" width="1.8" height="24.0" fill="#f23645"/><rect x="744" y="588.5" width="1" height="25.8" fill="#f23645"/><rect x="743.6" y="594.6" width="1.8" height="16.3" fill="#f23645"/><rect x="745" y="592.1" width="1" height="32.7" fill="#089981"/><rect x="744.6" y="610.3" width="1.8" height="1.0" fill="#089981"/><rect x="746" y="603.5" width="1" height="14.0" fill="#089981"/><rect x="745.6" y="608.5" width="1.8" height="1.9" fill="#089981"/><rect x="747" y="602.4" width="1" height="32.6" fill="#f23645"/><rect x="746.6" y="608.5" width="1.8" height="13.5" fill="#f23645"/><rect x="749" y="611.3" width="1" height="19.5" fill="#089981"/><rect x="748.6" y="617.3" width="1.8" height="4.7" fill="#089981"/><rect x="750" y="595.9" width="1" height="25.2" fill="#089981"/><rect x="749.6" y="614.2" width="1.8" height="3.1" fill="#089981"/><rect x="751" y="599.8" width="1" height="13.5" fill="#089981"/><rect x="750.6" y="606.2" width="1.8" height="8.0" fill="#089981"/><rect x="753" y="575.7" width="1" height="30.1" fill="#089981"/><rect x="752.6" y="593.1" width="1.8" height="13.1" fill="#089981"/><rect x="754" y="560.0" width="1" height="42.5" fill="#089981"/><rect x="753.6" y="592.6" width="1.8" height="1.0" fill="#089981"/><rect x="755" y="591.9" width="1" height="17.8" fill="#f23645"/><rect x="754.6" y="592.6" width="1.8" height="1.7" fill="#f23645"/><rect x="756" y="591.2" width="1" height="16.8" fill="#f23645"/><rect x="755.6" y="594.3" width="1.8" height="12.3" fill="#f23645"/><rect x="758" y="601.1" width="1" height="12.0" fill="#089981"/><rect x="757.6" y="604.2" width="1.8" height="2.4" fill="#089981"/><rect x="759" y="588.2" width="1" height="22.1" fill="#f23645"/><rect x="758.6" y="604.2" width="1.8" height="3.4" fill="#f23645"/><rect x="760" y="605.6" width="1" height="5.9" fill="#f23645"/><rect x="759.6" y="607.5" width="1.8" height="1.3" fill="#f23645"/><rect x="761" y="600.7" width="1" height="13.3" fill="#089981"/><rect x="760.6" y="602.5" width="1.8" height="6.3" fill="#089981"/><rect x="763" y="599.1" width="1" height="11.7" fill="#089981"/><rect x="762.6" y="601.7" width="1.8" height="1.0" fill="#089981"/><rect x="764" y="600.2" width="1" height="15.1" fill="#f23645"/><rect x="763.6" y="601.7" width="1.8" height="8.5" fill="#f23645"/><rect x="765" y="603.0" width="1" height="11.4" fill="#089981"/><rect x="764.6" y="608.6" width="1.8" height="1.5" fill="#089981"/><rect x="766" y="600.6" width="1" height="18.1" fill="#f23645"/><rect x="765.6" y="608.6" width="1.8" height="8.3" fill="#f23645"/><rect x="768" y="604.1" width="1" height="13.5" fill="#089981"/><rect x="767.6" y="605.1" width="1.8" height="11.8" fill="#089981"/><rect x="769" y="598.0" width="1" height="12.5" fill="#089981"/><rect x="768.6" y="602.2" width="1.8" height="2.9" fill="#089981"/><rect x="770" y="589.3" width="1" height="18.7" fill="#089981"/><rect x="769.6" y="597.0" width="1.8" height="5.2" fill="#089981"/><rect x="772" y="585.8" width="1" height="15.5" fill="#089981"/><rect x="771.6" y="593.8" width="1.8" height="3.1" fill="#089981"/><rect x="773" y="561.0" width="1" height="35.8" fill="#089981"/><rect x="772.6" y="585.4" width="1.8" height="8.4" fill="#089981"/><rect x="774" y="580.7" width="1" height="10.7" fill="#089981"/><rect x="773.6" y="584.4" width="1.8" height="1.1" fill="#089981"/><rect x="775" y="587.8" width="1" height="8.7" fill="#f23645"/><rect x="774.6" y="587.2" width="1.8" height="6.8" fill="#f23645"/><rect x="777" y="590.6" width="1" height="14.5" fill="#f23645"/><rect x="776.6" y="594.0" width="1.8" height="6.6" fill="#f23645"/><rect x="778" y="594.3" width="1" height="13.8" fill="#f23645"/><rect x="777.6" y="600.5" width="1.8" height="1.4" fill="#f23645"/><rect x="779" y="592.7" width="1" height="17.4" fill="#f23645"/><rect x="778.6" y="601.9" width="1.8" height="3.3" fill="#f23645"/><rect x="780" y="595.3" width="1" height="14.6" fill="#089981"/><rect x="779.6" y="601.4" width="1.8" height="3.7" fill="#089981"/><rect x="782" y="596.9" width="1" height="20.1" fill="#f23645"/><rect x="781.6" y="601.4" width="1.8" height="1.8" fill="#f23645"/><rect x="783" y="595.2" width="1" height="13.3" fill="#089981"/><rect x="782.6" y="601.9" width="1.8" height="1.4" fill="#089981"/><rect x="784" y="593.1" width="1" height="11.7" fill="#089981"/><rect x="783.6" y="601.7" width="1.8" height="1.0" fill="#089981"/><rect x="785" y="591.2" width="1" height="12.9" fill="#089981"/><rect x="784.6" y="593.7" width="1.8" height="8.0" fill="#089981"/><rect x="787" y="588.5" width="1" height="10.3" fill="#f23645"/><rect x="786.6" y="593.7" width="1.8" height="2.2" fill="#f23645"/><rect x="788" y="589.6" width="1" height="14.0" fill="#089981"/><rect x="787.6" y="595.4" width="1.8" height="1.0" fill="#089981"/><rect x="789" y="587.4" width="1" height="13.3" fill="#089981"/><rect x="788.6" y="589.5" width="1.8" height="5.9" fill="#089981"/><rect x="791" y="586.9" width="1" height="7.4" fill="#089981"/><rect x="790.6" y="587.9" width="1.8" height="1.6" fill="#089981"/><rect x="792" y="583.0" width="1" height="10.8" fill="#089981"/><rect x="791.6" y="587.1" width="1.8" height="1.0" fill="#089981"/><rect x="793" y="571.0" width="1" height="27.9" fill="#f23645"/><rect x="792.6" y="587.1" width="1.8" height="4.0" fill="#f23645"/><rect x="794" y="585.8" width="1" height="13.2" fill="#089981"/><rect x="793.6" y="590.6" width="1.8" height="1.0" fill="#089981"/><rect x="796" y="585.6" width="1" height="5.6" fill="#089981"/><rect x="795.6" y="588.9" width="1.8" height="1.6" fill="#089981"/><rect x="797" y="586.2" width="1" height="8.9" fill="#089981"/><rect x="796.6" y="587.4" width="1.8" height="1.5" fill="#089981"/><rect x="798" y="581.3" width="1" height="8.0" fill="#089981"/><rect x="797.6" y="584.4" width="1.8" height="3.0" fill="#089981"/><rect x="799" y="583.2" width="1" height="14.2" fill="#f23645"/><rect x="798.6" y="584.4" width="1.8" height="8.5" fill="#f23645"/><rect x="801" y="591.3" width="1" height="5.1" fill="#089981"/><rect x="800.6" y="592.3" width="1.8" height="1.0" fill="#089981"/><rect x="802" y="588.8" width="1" height="10.4" fill="#089981"/><rect x="801.6" y="591.7" width="1.8" height="1.0" fill="#089981"/><rect x="803" y="588.6" width="1" height="7.5" fill="#f23645"/><rect x="802.6" y="591.7" width="1.8" height="1.4" fill="#f23645"/><rect x="804" y="590.7" width="1" height="8.7" fill="#f23645"/><rect x="803.6" y="593.1" width="1.8" height="4.1" fill="#f23645"/><rect x="806" y="593.5" width="1" height="9.3" fill="#f23645"/><rect x="805.6" y="597.2" width="1.8" height="2.4" fill="#f23645"/><rect x="807" y="598.7" width="1" height="4.6" fill="#f23645"/><rect x="806.6" y="599.6" width="1.8" height="1.2" fill="#f23645"/><rect x="808" y="596.1" width="1" height="8.7" fill="#f23645"/><rect x="807.6" y="600.9" width="1.8" height="1.1" fill="#f23645"/><rect x="809" y="594.9" width="1" height="9.6" fill="#089981"/><rect x="808.6" y="599.5" width="1.8" height="2.4" fill="#089981"/><rect x="811" y="595.8" width="1" height="6.7" fill="#089981"/><rect x="810.6" y="596.7" width="1.8" height="2.8" fill="#089981"/><rect x="812" y="595.9" width="1" height="8.8" fill="#f23645"/><rect x="811.6" y="596.7" width="1.8" height="6.4" fill="#f23645"/><rect x="813" y="601.6" width="1" height="36.4" fill="#f23645"/><rect x="812.6" y="603.2" width="1.8" height="2.8" fill="#f23645"/><rect x="815" y="603.0" width="1" height="13.8" fill="#f23645"/><rect x="814.6" y="605.9" width="1.8" height="9.1" fill="#f23645"/><rect x="816" y="608.0" width="1" height="16.0" fill="#089981"/><rect x="815.6" y="614.6" width="1.8" height="1.0" fill="#089981"/><rect x="817" y="609.3" width="1" height="6.7" fill="#089981"/><rect x="816.6" y="611.9" width="1.8" height="2.7" fill="#089981"/><rect x="818" y="610.3" width="1" height="8.7" fill="#f23645"/><rect x="817.6" y="611.9" width="1.8" height="1.7" fill="#f23645"/><rect x="820" y="609.6" width="1" height="8.0" fill="#f23645"/><rect x="819.6" y="613.6" width="1.8" height="2.7" fill="#f23645"/><rect x="821" y="607.2" width="1" height="14.8" fill="#f23645"/><rect x="820.6" y="616.3" width="1.8" height="3.8" fill="#f23645"/><rect x="822" y="607.1" width="1" height="15.7" fill="#089981"/><rect x="821.6" y="610.5" width="1.8" height="9.6" fill="#089981"/><rect x="823" y="607.4" width="1" height="9.7" fill="#f23645"/><rect x="822.6" y="610.5" width="1.8" height="3.3" fill="#f23645"/><rect x="825" y="612.2" width="1" height="6.1" fill="#089981"/><rect x="824.6" y="613.3" width="1.8" height="1.0" fill="#089981"/><rect x="826" y="595.0" width="1" height="21.4" fill="#089981"/><rect x="825.6" y="608.4" width="1.8" height="5.0" fill="#089981"/><rect x="827" y="600.3" width="1" height="14.7" fill="#f23645"/><rect x="826.6" y="608.4" width="1.8" height="2.4" fill="#f23645"/><rect x="828" y="605.9" width="1" height="11.9" fill="#f23645"/><rect x="827.6" y="610.7" width="1.8" height="2.7" fill="#f23645"/><rect x="830" y="610.7" width="1" height="9.9" fill="#f23645"/><rect x="829.6" y="613.4" width="1.8" height="1.0" fill="#f23645"/><rect x="831" y="611.3" width="1" height="13.4" fill="#f23645"/><rect x="830.6" y="613.5" width="1.8" height="8.1" fill="#f23645"/><rect x="832" y="618.1" width="1" height="8.7" fill="#f23645"/><rect x="831.6" y="621.6" width="1.8" height="1.0" fill="#f23645"/><rect x="834" y="620.2" width="1" height="8.3" fill="#f23645"/><rect x="833.6" y="622.4" width="1.8" height="4.9" fill="#f23645"/><rect x="835" y="621.9" width="1" height="10.9" fill="#f23645"/><rect x="834.6" y="627.3" width="1.8" height="4.0" fill="#f23645"/><rect x="836" y="628.0" width="1" height="5.8" fill="#089981"/><rect x="835.6" y="630.5" width="1.8" height="1.0" fill="#089981"/><rect x="837" y="626.5" width="1" height="7.4" fill="#f23645"/><rect x="836.6" y="630.5" width="1.8" height="1.0" fill="#f23645"/><rect x="839" y="626.6" width="1" height="6.9" fill="#089981"/><rect x="838.6" y="629.3" width="1.8" height="2.2" fill="#089981"/><rect x="840" y="620.3" width="1" height="11.5" fill="#089981"/><rect x="839.6" y="624.8" width="1.8" height="4.6" fill="#089981"/><rect x="841" y="621.6" width="1" height="9.3" fill="#f23645"/><rect x="840.6" y="624.8" width="1.8" height="1.0" fill="#f23645"/><rect x="842" y="620.2" width="1" height="11.1" fill="#089981"/><rect x="841.6" y="625.4" width="1.8" height="1.0" fill="#089981"/><rect x="844" y="622.9" width="1" height="10.3" fill="#f23645"/><rect x="843.6" y="625.4" width="1.8" height="2.4" fill="#f23645"/><rect x="845" y="623.7" width="1" height="12.2" fill="#f23645"/><rect x="844.6" y="627.7" width="1.8" height="1.3" fill="#f23645"/><rect x="846" y="627.3" width="1" height="28.1" fill="#f23645"/><rect x="845.6" y="629.0" width="1.8" height="19.9" fill="#f23645"/><rect x="847" y="646.3" width="1" height="12.1" fill="#f23645"/><rect x="846.6" y="648.9" width="1.8" height="3.2" fill="#f23645"/><rect x="849" y="646.4" width="1" height="43.6" fill="#f23645"/><rect x="848.6" y="652.2" width="1.8" height="12.4" fill="#f23645"/><rect x="850" y="654.6" width="1" height="19.0" fill="#f23645"/><rect x="849.6" y="664.6" width="1.8" height="6.3" fill="#f23645"/><rect x="851" y="653.8" width="1" height="20.0" fill="#089981"/><rect x="850.6" y="660.9" width="1.8" height="10.0" fill="#089981"/><rect x="853" y="657.1" width="1" height="16.9" fill="#f23645"/><rect x="852.6" y="660.9" width="1.8" height="5.4" fill="#f23645"/><rect x="854" y="646.4" width="1" height="20.9" fill="#089981"/><rect x="853.6" y="658.1" width="1.8" height="8.3" fill="#089981"/><rect x="855" y="644.9" width="1" height="14.7" fill="#089981"/><rect x="854.6" y="648.0" width="1.8" height="10.1" fill="#089981"/><rect x="856" y="624.4" width="1" height="24.7" fill="#089981"/><rect x="855.6" y="631.6" width="1.8" height="16.4" fill="#089981"/><rect x="858" y="607.1" width="1" height="27.6" fill="#089981"/><rect x="857.6" y="622.5" width="1.8" height="9.1" fill="#089981"/><rect x="859" y="575.8" width="1" height="40.1" fill="#089981"/><rect x="858.6" y="581.1" width="1.8" height="39.1" fill="#089981"/><rect x="860" y="571.4" width="1" height="14.1" fill="#089981"/><rect x="859.6" y="575.5" width="1.8" height="5.5" fill="#089981"/><rect x="861" y="555.0" width="1" height="21.5" fill="#089981"/><rect x="860.6" y="561.5" width="1.8" height="14.0" fill="#089981"/><rect x="863" y="540.6" width="1" height="25.1" fill="#089981"/><rect x="862.6" y="544.4" width="1.8" height="17.1" fill="#089981"/><rect x="864" y="516.0" width="1" height="41.0" fill="#089981"/><rect x="863.6" y="536.4" width="1.8" height="8.0" fill="#089981"/><rect x="865" y="541.5" width="1" height="11.9" fill="#f23645"/><rect x="864.6" y="540.8" width="1.8" height="10.6" fill="#f23645"/><rect x="866" y="539.9" width="1" height="15.5" fill="#089981"/><rect x="865.6" y="542.5" width="1.8" height="8.8" fill="#089981"/><rect x="868" y="529.5" width="1" height="23.7" fill="#089981"/><rect x="867.6" y="532.5" width="1.8" height="10.0" fill="#089981"/><rect x="869" y="529.2" width="1" height="12.8" fill="#089981"/><rect x="868.6" y="531.2" width="1.8" height="1.3" fill="#089981"/><rect x="870" y="513.5" width="1" height="26.0" fill="#089981"/><rect x="869.6" y="518.6" width="1.8" height="12.6" fill="#089981"/><rect x="871" y="515.8" width="1" height="18.7" fill="#f23645"/><rect x="870.6" y="518.6" width="1.8" height="14.1" fill="#f23645"/><rect x="873" y="526.5" width="1" height="11.3" fill="#089981"/><rect x="872.6" y="532.1" width="1.8" height="1.0" fill="#089981"/><rect x="874" y="529.5" width="1" height="11.9" fill="#f23645"/><rect x="873.6" y="532.1" width="1.8" height="6.9" fill="#f23645"/><rect x="875" y="529.5" width="1" height="24.7" fill="#089981"/><rect x="874.6" y="535.1" width="1.8" height="3.9" fill="#089981"/><rect x="877" y="528.5" width="1" height="25.1" fill="#f23645"/><rect x="876.6" y="535.1" width="1.8" height="3.2" fill="#f23645"/><rect x="878" y="533.9" width="1" height="19.8" fill="#f23645"/><rect x="877.6" y="538.3" width="1.8" height="3.8" fill="#f23645"/><rect x="879" y="524.2" width="1" height="21.7" fill="#089981"/><rect x="878.6" y="530.2" width="1.8" height="11.9" fill="#089981"/><rect x="880" y="520.3" width="1" height="24.0" fill="#f23645"/><rect x="879.6" y="530.2" width="1.8" height="2.1" fill="#f23645"/><rect x="882" y="502.0" width="1" height="39.1" fill="#f23645"/><rect x="881.6" y="532.3" width="1.8" height="2.2" fill="#f23645"/><rect x="883" y="518.9" width="1" height="38.8" fill="#f23645"/><rect x="882.6" y="534.5" width="1.8" height="6.1" fill="#f23645"/><rect x="884" y="534.2" width="1" height="34.7" fill="#f23645"/><rect x="883.6" y="540.6" width="1.8" height="24.7" fill="#f23645"/><rect x="885" y="562.1" width="1" height="14.2" fill="#f23645"/><rect x="884.6" y="565.3" width="1.8" height="9.4" fill="#f23645"/><rect x="887" y="573.0" width="1" height="26.7" fill="#f23645"/><rect x="886.6" y="574.7" width="1.8" height="13.1" fill="#f23645"/><rect x="888" y="583.9" width="1" height="71.1" fill="#f23645"/><rect x="887.6" y="587.8" width="1.8" height="15.7" fill="#f23645"/><rect x="889" y="591.3" width="1" height="20.6" fill="#f23645"/><rect x="888.6" y="603.5" width="1.8" height="6.8" fill="#f23645"/><rect x="890" y="578.7" width="1" height="30.0" fill="#089981"/><rect x="889.6" y="597.3" width="1.8" height="13.0" fill="#089981"/><rect x="892" y="511.0" width="1" height="86.8" fill="#089981"/><rect x="891.6" y="538.2" width="1.8" height="59.1" fill="#089981"/><rect x="893" y="524.0" width="1" height="32.6" fill="#f23645"/><rect x="892.6" y="538.2" width="1.8" height="3.2" fill="#f23645"/><rect x="894" y="521.5" width="1" height="27.4" fill="#089981"/><rect x="893.6" y="535.8" width="1.8" height="5.6" fill="#089981"/><rect x="896" y="533.0" width="1" height="28.1" fill="#f23645"/><rect x="895.6" y="535.8" width="1.8" height="8.3" fill="#f23645"/><rect x="897" y="544.5" width="1" height="25.7" fill="#f23645"/><rect x="896.6" y="544.1" width="1.8" height="7.6" fill="#f23645"/><rect x="898" y="547.5" width="1" height="15.2" fill="#f23645"/><rect x="897.6" y="551.7" width="1.8" height="3.7" fill="#f23645"/><rect x="899" y="550.1" width="1" height="22.6" fill="#f23645"/><rect x="898.6" y="555.4" width="1.8" height="8.4" fill="#f23645"/><rect x="901" y="552.8" width="1" height="21.5" fill="#f23645"/><rect x="900.6" y="563.8" width="1.8" height="1.0" fill="#f23645"/><rect x="902" y="564.2" width="1" height="10.5" fill="#f23645"/><rect x="901.6" y="564.5" width="1.8" height="1.0" fill="#f23645"/><rect x="903" y="560.2" width="1" height="7.6" fill="#f23645"/><rect x="902.6" y="565.2" width="1.8" height="1.0" fill="#f23645"/><rect x="904" y="549.9" width="1" height="19.8" fill="#089981"/><rect x="903.6" y="562.6" width="1.8" height="3.5" fill="#089981"/><rect x="906" y="550.0" width="1" height="15.1" fill="#089981"/><rect x="905.6" y="553.9" width="1.8" height="8.6" fill="#089981"/><rect x="907" y="534.0" width="1" height="22.4" fill="#089981"/><rect x="906.6" y="543.4" width="1.8" height="10.5" fill="#089981"/><rect x="908" y="531.6" width="1" height="16.3" fill="#089981"/><rect x="907.6" y="543.0" width="1.8" height="1.0" fill="#089981"/><rect x="909" y="527.4" width="1" height="19.7" fill="#089981"/><rect x="908.6" y="532.7" width="1.8" height="10.3" fill="#089981"/><rect x="911" y="523.9" width="1" height="21.7" fill="#f23645"/><rect x="910.6" y="532.7" width="1.8" height="5.3" fill="#f23645"/><rect x="912" y="521.0" width="1" height="29.1" fill="#089981"/><rect x="911.6" y="535.9" width="1.8" height="2.2" fill="#089981"/><rect x="913" y="533.6" width="1" height="23.1" fill="#f23645"/><rect x="912.6" y="535.9" width="1.8" height="13.0" fill="#f23645"/><rect x="915" y="544.5" width="1" height="22.4" fill="#f23645"/><rect x="914.6" y="548.9" width="1.8" height="12.1" fill="#f23645"/><rect x="916" y="550.9" width="1" height="24.0" fill="#f23645"/><rect x="915.6" y="561.0" width="1.8" height="2.4" fill="#f23645"/><rect x="917" y="560.8" width="1" height="15.3" fill="#f23645"/><rect x="916.6" y="563.4" width="1.8" height="5.4" fill="#f23645"/><rect x="918" y="565.8" width="1" height="12.1" fill="#f23645"/><rect x="917.6" y="568.8" width="1.8" height="1.0" fill="#f23645"/><rect x="920" y="565.7" width="1" height="6.7" fill="#089981"/><rect x="919.6" y="568.3" width="1.8" height="1.0" fill="#089981"/><rect x="921" y="566.8" width="1" height="6.9" fill="#089981"/><rect x="920.6" y="568.2" width="1.8" height="1.0" fill="#089981"/><rect x="922" y="562.8" width="1" height="20.3" fill="#f23645"/><rect x="921.6" y="568.2" width="1.8" height="11.1" fill="#f23645"/><rect x="923" y="566.4" width="1" height="14.9" fill="#089981"/><rect x="922.6" y="571.1" width="1.8" height="8.1" fill="#089981"/><rect x="925" y="565.6" width="1" height="13.5" fill="#f23645"/><rect x="924.6" y="571.1" width="1.8" height="2.2" fill="#f23645"/><rect x="926" y="567.5" width="1" height="22.6" fill="#f23645"/><rect x="925.6" y="573.3" width="1.8" height="10.8" fill="#f23645"/><rect x="927" y="581.1" width="1" height="24.9" fill="#f23645"/><rect x="926.6" y="584.0" width="1.8" height="3.0" fill="#f23645"/><rect x="928" y="582.7" width="1" height="17.1" fill="#f23645"/><rect x="927.6" y="587.0" width="1.8" height="7.9" fill="#f23645"/><rect x="930" y="589.5" width="1" height="8.3" fill="#089981"/><rect x="929.6" y="593.5" width="1.8" height="1.5" fill="#089981"/><rect x="931" y="582.9" width="1" height="13.9" fill="#089981"/><rect x="930.6" y="586.5" width="1.8" height="7.0" fill="#089981"/><rect x="932" y="580.5" width="1" height="13.9" fill="#089981"/><rect x="931.6" y="582.4" width="1.8" height="4.1" fill="#089981"/><rect x="934" y="575.5" width="1" height="12.2" fill="#f23645"/><rect x="933.6" y="582.4" width="1.8" height="2.8" fill="#f23645"/><rect x="935" y="555.3" width="1" height="32.3" fill="#089981"/><rect x="934.6" y="573.7" width="1.8" height="11.4" fill="#089981"/><rect x="936" y="544.3" width="1" height="30.5" fill="#089981"/><rect x="935.6" y="558.1" width="1.8" height="15.7" fill="#089981"/><rect x="937" y="549.2" width="1" height="12.7" fill="#089981"/><rect x="936.6" y="555.2" width="1.8" height="2.9" fill="#089981"/><rect x="939" y="542.9" width="1" height="13.6" fill="#089981"/><rect x="938.6" y="551.4" width="1.8" height="3.8" fill="#089981"/><rect x="940" y="542.1" width="1" height="16.9" fill="#089981"/><rect x="939.6" y="544.9" width="1.8" height="6.4" fill="#089981"/><rect x="941" y="541.9" width="1" height="11.5" fill="#f23645"/><rect x="940.6" y="544.9" width="1.8" height="4.1" fill="#f23645"/><rect x="942" y="540.8" width="1" height="16.6" fill="#f23645"/><rect x="941.6" y="549.1" width="1.8" height="3.2" fill="#f23645"/><rect x="944" y="538.7" width="1" height="18.5" fill="#089981"/><rect x="943.6" y="548.9" width="1.8" height="3.3" fill="#089981"/><rect x="945" y="538.3" width="1" height="16.7" fill="#089981"/><rect x="944.6" y="548.6" width="1.8" height="1.0" fill="#089981"/><rect x="946" y="542.9" width="1" height="10.8" fill="#089981"/><rect x="945.6" y="547.1" width="1.8" height="1.6" fill="#089981"/><rect x="947" y="541.1" width="1" height="7.8" fill="#089981"/><rect x="946.6" y="543.3" width="1.8" height="3.8" fill="#089981"/><rect x="949" y="539.2" width="1" height="14.6" fill="#f23645"/><rect x="948.6" y="543.3" width="1.8" height="7.8" fill="#f23645"/><rect x="950" y="546.9" width="1" height="6.6" fill="#f23645"/><rect x="949.6" y="551.1" width="1.8" height="1.0" fill="#f23645"/><rect x="951" y="544.3" width="1" height="8.9" fill="#089981"/><rect x="950.6" y="545.3" width="1.8" height="6.2" fill="#089981"/><rect x="952" y="538.5" width="1" height="9.1" fill="#089981"/><rect x="951.6" y="540.7" width="1.8" height="4.6" fill="#089981"/><rect x="954" y="533.1" width="1" height="10.1" fill="#089981"/><rect x="953.6" y="535.6" width="1.8" height="5.2" fill="#089981"/><rect x="955" y="523.0" width="1" height="16.0" fill="#089981"/><rect x="954.6" y="527.8" width="1.8" height="7.7" fill="#089981"/><rect x="956" y="526.5" width="1" height="5.7" fill="#f23645"/><rect x="955.6" y="527.8" width="1.8" height="1.0" fill="#f23645"/><rect x="958" y="497.0" width="1" height="33.6" fill="#089981"/><rect x="957.6" y="522.5" width="1.8" height="5.8" fill="#089981"/><rect x="959" y="516.6" width="1" height="25.5" fill="#f23645"/><rect x="958.6" y="522.5" width="1.8" height="5.4" fill="#f23645"/><rect x="960" y="521.7" width="1" height="37.9" fill="#f23645"/><rect x="959.6" y="527.9" width="1.8" height="29.4" fill="#f23645"/><rect x="961" y="545.5" width="1" height="59.5" fill="#f23645"/><rect x="960.6" y="557.3" width="1.8" height="1.7" fill="#f23645"/><rect x="963" y="561.2" width="1" height="22.9" fill="#f23645"/><rect x="962.6" y="559.1" width="1.8" height="16.8" fill="#f23645"/><rect x="964" y="579.0" width="1" height="15.9" fill="#f23645"/><rect x="963.6" y="578.0" width="1.8" height="14.1" fill="#f23645"/><rect x="965" y="584.0" width="1" height="14.6" fill="#089981"/><rect x="964.6" y="586.8" width="1.8" height="5.3" fill="#089981"/><rect x="966" y="579.8" width="1" height="18.6" fill="#f23645"/><rect x="965.6" y="586.8" width="1.8" height="5.3" fill="#f23645"/><rect x="968" y="581.5" width="1" height="14.6" fill="#089981"/><rect x="967.6" y="582.7" width="1.8" height="9.5" fill="#089981"/><rect x="969" y="580.3" width="1" height="6.1" fill="#f23645"/><rect x="968.6" y="582.7" width="1.8" height="1.4" fill="#f23645"/><rect x="970" y="580.9" width="1" height="7.7" fill="#f23645"/><rect x="969.6" y="584.0" width="1.8" height="3.5" fill="#f23645"/><rect x="971" y="577.6" width="1" height="11.6" fill="#f23645"/><rect x="970.6" y="587.6" width="1.8" height="1.2" fill="#f23645"/><rect x="973" y="575.9" width="1" height="16.4" fill="#089981"/><rect x="972.6" y="581.2" width="1.8" height="7.6" fill="#089981"/><rect x="974" y="576.0" width="1" height="9.1" fill="#f23645"/><rect x="973.6" y="581.2" width="1.8" height="2.7" fill="#f23645"/><rect x="975" y="575.2" width="1" height="10.1" fill="#089981"/><rect x="974.6" y="580.9" width="1.8" height="3.0" fill="#089981"/><rect x="977" y="570.9" width="1" height="16.1" fill="#f23645"/><rect x="976.6" y="580.9" width="1.8" height="2.0" fill="#f23645"/><rect x="978" y="573.0" width="1" height="12.2" fill="#089981"/><rect x="977.6" y="580.3" width="1.8" height="2.6" fill="#089981"/><rect x="979" y="569.2" width="1" height="13.4" fill="#089981"/><rect x="978.6" y="571.3" width="1.8" height="9.0" fill="#089981"/><rect x="980" y="570.4" width="1" height="12.8" fill="#f23645"/><rect x="979.6" y="571.3" width="1.8" height="10.5" fill="#f23645"/><rect x="982" y="580.7" width="1" height="7.6" fill="#f23645"/><rect x="981.6" y="581.7" width="1.8" height="1.7" fill="#f23645"/><rect x="983" y="577.6" width="1" height="8.5" fill="#089981"/><rect x="982.6" y="582.6" width="1.8" height="1.0" fill="#089981"/><rect x="984" y="580.0" width="1" height="4.1" fill="#089981"/><rect x="983.6" y="581.4" width="1.8" height="1.2" fill="#089981"/><rect x="985" y="578.8" width="1" height="11.9" fill="#f23645"/><rect x="984.6" y="581.4" width="1.8" height="3.3" fill="#f23645"/><rect x="987" y="582.9" width="1" height="8.6" fill="#f23645"/><rect x="986.6" y="584.7" width="1.8" height="1.0" fill="#f23645"/><rect x="988" y="585.1" width="1" height="15.2" fill="#f23645"/><rect x="987.6" y="585.4" width="1.8" height="9.3" fill="#f23645"/><rect x="989" y="592.5" width="1" height="24.5" fill="#f23645"/><rect x="988.6" y="594.7" width="1.8" height="4.8" fill="#f23645"/><rect x="990" y="592.0" width="1" height="12.7" fill="#089981"/><rect x="989.6" y="597.6" width="1.8" height="1.8" fill="#089981"/><rect x="992" y="594.6" width="1" height="8.1" fill="#f23645"/><rect x="991.6" y="597.6" width="1.8" height="4.7" fill="#f23645"/><rect x="993" y="596.8" width="1" height="7.0" fill="#f23645"/><rect x="992.6" y="602.3" width="1.8" height="1.2" fill="#f23645"/><rect x="994" y="600.8" width="1" height="4.4" fill="#f23645"/><rect x="993.6" y="603.5" width="1.8" height="1.0" fill="#f23645"/><rect x="996" y="601.0" width="1" height="3.3" fill="#f23645"/><rect x="995.6" y="603.8" width="1.8" height="1.0" fill="#f23645"/><rect x="997" y="596.3" width="1" height="8.6" fill="#089981"/><rect x="996.6" y="599.9" width="1.8" height="3.9" fill="#089981"/><rect x="998" y="597.8" width="1" height="9.1" fill="#089981"/><rect x="997.6" y="599.4" width="1.8" height="1.0" fill="#089981"/><rect x="999" y="598.5" width="1" height="11.6" fill="#f23645"/><rect x="998.6" y="599.4" width="1.8" height="7.0" fill="#f23645"/><rect x="1001" y="599.0" width="1" height="12.1" fill="#089981"/><rect x="1000.6" y="605.3" width="1.8" height="1.1" fill="#089981"/><rect x="1002" y="598.0" width="1" height="15.0" fill="#089981"/><rect x="1001.6" y="600.2" width="1.8" height="5.1" fill="#089981"/><rect x="1003" y="599.4" width="1" height="6.3" fill="#f23645"/><rect x="1002.6" y="600.2" width="1.8" height="1.6" fill="#f23645"/><rect x="1004" y="579.6" width="1" height="22.0" fill="#089981"/><rect x="1003.6" y="584.1" width="1.8" height="17.7" fill="#089981"/><rect x="1006" y="573.7" width="1" height="15.4" fill="#f23645"/><rect x="1005.6" y="584.1" width="1.8" height="2.8" fill="#f23645"/><rect x="1007" y="555.5" width="1" height="33.2" fill="#089981"/><rect x="1006.6" y="584.2" width="1.8" height="2.8" fill="#089981"/><rect x="1008" y="580.3" width="1" height="10.1" fill="#f23645"/><rect x="1007.6" y="584.2" width="1.8" height="1.0" fill="#f23645"/><rect x="1009" y="564.1" width="1" height="12.8" fill="#089981"/><rect x="1008.6" y="564.7" width="1.8" height="12.8" fill="#089981"/><rect x="1011" y="545.5" width="1" height="21.6" fill="#089981"/><rect x="1010.6" y="551.9" width="1.8" height="12.8" fill="#089981"/><rect x="1012" y="511.1" width="1" height="33.9" fill="#089981"/><rect x="1011.6" y="514.5" width="2.2" height="27.2" fill="#089981"/><rect x="1013" y="445.9" width="1" height="75.3" fill="#089981"/><rect x="1012.6" y="450.0" width="2.2" height="64.5" fill="#089981"/><rect x="1014" y="439.1" width="1" height="48.2" fill="#f23645"/><rect x="1013.6" y="450.0" width="2.2" height="33.9" fill="#f23645"/><rect x="1016" y="412.6" width="1" height="78.1" fill="#089981"/><rect x="1015.6" y="419.4" width="2.2" height="64.5" fill="#089981"/><rect x="1017" y="317.6" width="1" height="115.4" fill="#089981"/><rect x="1016.6" y="334.6" width="2.2" height="84.9" fill="#089981"/><rect x="1018" y="86.1" width="1" height="251.9" fill="#089981"/><rect x="1017.6" y="229.4" width="2.2" height="105.2" fill="#089981"/><rect x="1020" y="143.2" width="1" height="126.9" fill="#f23645"/><rect x="1019.6" y="229.4" width="2.2" height="3.4" fill="#f23645"/><rect x="1021" y="143.2" width="1" height="90.1" fill="#089981"/><rect x="1020.6" y="182.1" width="2.2" height="50.6" fill="#089981"/><rect x="14" y="580.3" width="985.5" height="26.2" fill="#388e3c" fill-opacity="0.2" stroke="#2e7d32" stroke-width="1.1"/><rect x="600.5" y="639.5" width="394" height="6" fill="#c8e6c9" fill-opacity="0.6" stroke="#5cb160" stroke-width="3"/><rect x="997.5" y="291.5" width="287" height="15.8" fill="#4caf50" fill-opacity="0.1" stroke="#81c784" stroke-width="1"/><rect x="997.5" y="349.3" width="287" height="15.9" fill="#4caf50" fill-opacity="0.1" stroke="#81c784" stroke-width="1"/><line x1="389" y1="464.5" x2="571" y2="464.5" stroke="#f23645" stroke-width="4" stroke-linecap="round"/><rect x="563.2" y="522.4" width="39.3" height="8.3" fill="#f23645" fill-opacity="0.08" stroke="#e04050" stroke-width="1"/><rect x="554.7" y="535.7" width="85.7" height="3.6" fill="#fff" fill-opacity="0.7" stroke="#f23645" stroke-width="2.6"/><line x1="491" y1="476.3" x2="585" y2="476.3" stroke="#089981" stroke-width="1"/><text x="594" y="466" font-size="14.6" fill="#089981" text-anchor="start" font-weight="400" textLength="97" lengthAdjust="spacingAndGlyphs" >0.618 (0.6961)</text><line x1="491.2" y1="367.7" x2="584" y2="651" stroke="#787b86" stroke-width="1.3" stroke-dasharray="4.5 6"/><line x1="13" y1="46" x2="864.5" y2="636.4" stroke="#9c27b0" stroke-width="3.7" stroke-linecap="round"/><line x1="360" y1="697" x2="1021" y2="612" stroke="#9c27b0" stroke-width="3.7" stroke-linecap="round"/><line x1="516.5" y1="34" x2="1349" y2="538.5" stroke="#33873a" stroke-width="3"/><line x1="1072.7" y1="290" x2="1095" y2="33" stroke="#33873a" stroke-width="3"/><line x1="997" y1="86.4" x2="1084.5" y2="86.4" stroke="#787b86" stroke-width="1"/><text x="1094.3" y="75.4" font-size="14.6" fill="#787b86" text-anchor="start" font-weight="400" textLength="67" lengthAdjust="spacingAndGlyphs" >0 (1.2711)</text><line x1="997" y1="149.2" x2="1084.5" y2="149.2" stroke="#c62f42" stroke-width="1"/><text x="1094.3" y="138.2" font-size="14.6" fill="#c62f42" text-anchor="start" font-weight="400" textLength="96" lengthAdjust="spacingAndGlyphs" >0.118 (1.1788)</text><line x1="997" y1="211.3" x2="1084.5" y2="211.3" stroke="#c62f42" stroke-width="1"/><text x="1094.3" y="200.3" font-size="14.6" fill="#c62f42" text-anchor="start" font-weight="400" textLength="97" lengthAdjust="spacingAndGlyphs" >0.236 (1.0866)</text><line x1="997" y1="289.4" x2="1084.5" y2="289.4" stroke="#ff9800" stroke-width="1"/><text x="1094.3" y="278.4" font-size="14.6" fill="#ff9800" text-anchor="start" font-weight="400" textLength="97" lengthAdjust="spacingAndGlyphs" >0.382 (0.9724)</text><line x1="997" y1="351.2" x2="1084.5" y2="351.2" stroke="#4caf50" stroke-width="1"/><text x="1094.3" y="340.2" font-size="14.6" fill="#4caf50" text-anchor="start" font-weight="400" textLength="80" lengthAdjust="spacingAndGlyphs" >0.5 (0.8801)</text><line x1="997" y1="414.4" x2="1084.5" y2="414.4" stroke="#089981" stroke-width="1"/><text x="1094.3" y="403.4" font-size="14.6" fill="#089981" text-anchor="start" font-weight="400" textLength="97" lengthAdjust="spacingAndGlyphs" >0.618 (0.7879)</text><line x1="1020" y1="232.7" x2="1027" y2="232.7" stroke="#4caf50" stroke-width="1.2"/><line x1="1020" y1="253.3" x2="1027" y2="253.3" stroke="#089981" stroke-width="1.2"/><line x1="1020" y1="322.6" x2="1027" y2="322.6" stroke="#787b86" stroke-width="1.2"/><line x1="1020" y1="432.8" x2="1027" y2="432.8" stroke="#3461e0" stroke-width="1.2"/><text x="1036" y="221.8" font-size="14.6" fill="#4caf50" text-anchor="start" font-weight="400" textLength="81" lengthAdjust="spacingAndGlyphs" >0.5 (1.0557)</text><text x="1036" y="242.4" font-size="14.6" fill="#089981" text-anchor="start" font-weight="400" textLength="97" lengthAdjust="spacingAndGlyphs" >0.618 (1.0244)</text><text x="1036.8" y="313" font-size="14.6" fill="#787b86" text-anchor="start" font-weight="400" textLength="66.8" lengthAdjust="spacingAndGlyphs" >1 (0.9232)</text><text x="1036.8" y="423" font-size="14.6" fill="#3461e0" text-anchor="start" font-weight="400" textLength="96.2" lengthAdjust="spacingAndGlyphs" >1.618 (0.7594)</text><polyline points="1027.8,86.5 1066.3,283.7" stroke="#b22833" stroke-width="2" fill="none"/><polyline points="1051.4,273.5 1066.3,283.7 1076.6,268.5" stroke="#b22833" stroke-width="2" fill="none" stroke-linejoin="miter"/><line x1="1018.6" y1="86.5" x2="1018.6" y2="273" stroke="#4a72b0" stroke-width="2.2"/><line x1="1021.2" y1="232" x2="1021.2" y2="323" stroke="url(#mg)" stroke-width="2.4"/><text x="1008.7" y="126.1" font-size="23" fill="#7e57c2" text-anchor="start" font-weight="400" textLength="25.2" lengthAdjust="spacingAndGlyphs" >(B)</text><text x="1008.0" y="307.3" font-size="22.5" fill="#7e57c2" text-anchor="start" font-weight="400" textLength="25.9" lengthAdjust="spacingAndGlyphs" >(A)</text><text x="1009.5" y="357.7" font-size="23" fill="#7e57c2" text-anchor="start" font-weight="400" textLength="26.5" lengthAdjust="spacingAndGlyphs" >(C)</text><line x1="14" y1="182.5" x2="1287" y2="182.5" stroke="#089981" stroke-width="1" stroke-dasharray="1 3"/></g><text x="23.3" y="58.7" font-size="15.5" fill="#131722" text-anchor="start" font-weight="400" textLength="206" lengthAdjust="spacingAndGlyphs" >XRP / U.S. Dollar, 1D, BINANCE</text><text x="239.5" y="58.7" font-size="15.5" fill="#131722" text-anchor="start" font-weight="400" textLength="10" lengthAdjust="spacingAndGlyphs" >O</text><text x="250.5" y="58.7" font-size="15.5" fill="#089981" text-anchor="start" font-weight="400" textLength="43.3" lengthAdjust="spacingAndGlyphs" >1.0551</text><text x="303.5" y="58.7" font-size="15.5" fill="#131722" text-anchor="start" font-weight="400" textLength="9" lengthAdjust="spacingAndGlyphs" >H</text><text x="313.7" y="58.7" font-size="15.5" fill="#089981" text-anchor="start" font-weight="400" textLength="43.5" lengthAdjust="spacingAndGlyphs" >1.1870</text><text x="367.6" y="58.7" font-size="15.5" fill="#131722" text-anchor="start" font-weight="400" textLength="7.2" lengthAdjust="spacingAndGlyphs" >L</text><text x="375.4" y="58.7" font-size="15.5" fill="#089981" text-anchor="start" font-weight="400" textLength="43.5" lengthAdjust="spacingAndGlyphs" >1.0542</text><text x="428.3" y="58.7" font-size="15.5" fill="#131722" text-anchor="start" font-weight="400" textLength="9" lengthAdjust="spacingAndGlyphs" >C</text><text x="438.2" y="58.7" font-size="15.5" fill="#089981" text-anchor="start" font-weight="400" textLength="43.8" lengthAdjust="spacingAndGlyphs" >1.1296</text><text x="491.9" y="58.7" font-size="15.5" fill="#089981" text-anchor="start" font-weight="400" textLength="113" lengthAdjust="spacingAndGlyphs" >+0.0757 (+7.18%)</text><line x1="13" y1="696.5" x2="1431" y2="696.5" stroke="#e0e3eb" stroke-width="1"/><g clip-path="url(#rp)"><rect x="14" y="750.5" width="1335" height="67" fill="#7e57c2" fill-opacity="0.1"/><line x1="14" y1="750.5" x2="1349" y2="750.5" stroke="#787b86" stroke-width="1" stroke-dasharray="5 6" stroke-dashoffset="1.3"/><line x1="14" y1="784.5" x2="1349" y2="784.5" stroke="#787b86" stroke-width="1" stroke-dasharray="5 6" stroke-dashoffset="1.3"/><line x1="14" y1="817.5" x2="1349" y2="817.5" stroke="#787b86" stroke-width="1" stroke-dasharray="5 6" stroke-dashoffset="1.3"/><clipPath id="ob"><rect x="14" y="697" width="1335" height="53.2"/></clipPath><linearGradient id="obf" x1="0" y1="697" x2="0" y2="750" gradientUnits="userSpaceOnUse"><stop offset="0" stop-color="#4caf50" stop-opacity="0"/><stop offset="1" stop-color="#4caf50" stop-opacity="0.22"/></linearGradient><polygon points="13.5,786.6 15.2,797.0 17.0,767.5 19.5,772.7 22.0,755.4 25.2,740.7 27.3,750.2 29.0,757.0 30.8,767.5 33.4,760.6 36.8,773.6 40.3,760.6 43.8,752.0 45.5,751.0 46.7,769.0 49.8,774.4 55.0,778.0 59.3,791.8 62.0,783.0 65.4,786.6 69.7,778.8 72.3,784.8 75.8,790.9 77.9,763.2 80.1,776.2 82.7,797.0 84.1,822.0 86.2,800.4 88.8,809.0 91.4,794.4 94.8,796.0 97.4,802.0 103.5,781.4 107.0,786.6 110.4,780.5 113.9,785.7 118.2,788.3 124.3,786.6 127.7,783.0 131.2,803.9 135.5,812.5 139.8,802.0 143.3,791.8 145.0,784.8 147.6,798.7 151.1,802.0 153.7,794.4 157.2,797.0 161.5,790.0 164.1,769.3 167.5,753.7 170.1,762.3 172.7,771.0 175.3,752.0 178.0,760.6 179.7,752.0 182.3,764.0 184.9,766.7 188.3,781.4 191.8,771.0 195.2,774.4 198.7,784.8 202.2,794.4 204.8,801.3 207.4,778.0 210.8,784.8 215.2,779.6 219.5,788.3 224.7,788.3 227.3,793.5 231.6,800.4 235.1,778.0 238.5,790.0 242.0,789.2 244.6,800.4 247.2,781.4 249.8,775.3 252.0,743.3 254.1,765.8 256.7,767.5 259.3,753.7 261.4,743.4 263.4,748.0 264.5,747.3 266.0,758.7 268.0,767.8 270.2,765.5 273.3,764.8 276.3,763.3 279.4,770.1 282.4,764.0 284.7,770.1 286.7,762.5 288.5,785.4 290.4,801.4 292.3,791.5 294.6,793.0 296.9,791.5 299.2,785.4 302.3,791.5 305.3,792.2 307.6,789.9 309.9,799.1 312.2,809.0 314.5,808.2 316.7,812.8 318.3,805.2 319.8,806.7 322.1,800.6 324.4,782.3 326.6,771.6 328.2,771.6 329.7,779.3 331.2,774.7 333.5,784.6 335.8,776.2 338.1,764.0 340.4,745.7 342.7,754.1 344.2,750.3 345.7,751.8 347.2,749.5 348.0,769.4 350.3,764.0 352.6,760.2 354.1,777.7 355.6,770.1 358.7,788.4 360.9,793.8 363.2,789.9 366.3,783.1 369.3,785.4 372.4,788.4 374.7,791.5 377.0,800.6 379.2,792.2 381.5,782.3 383.8,789.2 386.9,799.8 389.1,791.5 391.4,786.9 394.0,791.5 395.2,719.1 396.8,747.3 399.1,748.8 400.6,745.7 402.6,740.4 405.2,753.4 407.4,767.1 409.7,769.4 412.8,769.4 415.8,771.6 418.9,773.2 421.2,780.8 423.4,791.5 425.7,796.0 427.3,796.8 429.6,789.9 432.6,792.2 436.4,795.3 438.7,806.7 441.0,825.8 444.1,809.8 446.3,812.8 449.4,809.8 452.4,809.0 455.5,799.1 457.8,812.0 460.8,807.5 463.9,806.7 467.7,806.7 470.0,812.8 471.5,821.2 473.8,811.3 476.1,797.6 478.4,800.6 480.6,786.9 482.9,777.7 485.2,786.1 488.3,790.7 490.5,793.0 492.8,779.3 495.1,774.7 497.4,777.7 499.4,766.3 501.2,777.7 503.5,779.3 507.3,794.5 510.4,805.2 513.4,800.6 515.7,791.5 518.8,797.6 520.3,771.6 522.6,770.1 524.8,757.9 526.4,751.8 528.7,755.6 531.0,766.3 533.2,756.4 535.5,739.6 538.6,738.9 540.9,738.1 542.7,720.6 544.7,739.6 547.0,754.9 550.0,754.9 551.5,753.4 553.8,771.6 556.1,783.8 559.1,780.8 561.4,797.6 563.7,780.8 566.8,780.8 569.1,786.9 571.3,785.4 574.4,779.3 577.4,777.7 579.7,771.6 581.2,760.2 582.8,754.9 585.1,764.0 586.6,786.9 589.6,780.8 591.9,787.7 594.2,788.4 596.5,793.8 598.8,782.3 601.1,783.8 602.6,788.4 604.1,770.1 605.7,784.6 607.2,777.0 609.5,782.3 611.8,788.4 613.3,780.0 615.6,800.6 618.6,806.7 621.7,813.6 624.0,797.6 626.3,783.8 627.8,796.0 630.8,793.8 633.9,795.3 636.2,805.2 638.4,801.4 640.7,812.8 643.8,816.6 646.1,803.7 649.1,797.6 651.4,811.3 654.5,799.8 656.7,805.2 659.0,802.1 661.3,794.5 663.6,786.9 665.9,787.7 667.4,782.3 669.7,764.0 671.2,761.7 672.7,773.2 675.0,767.1 677.3,776.2 679.6,788.4 681.9,780.8 684.2,762.5 686.5,757.9 688.3,747.3 690.6,741.9 692.6,750.3 694.1,774.7 696.4,767.1 699.4,767.1 701.7,746.5 703.2,758.7 705.5,765.5 707.8,785.4 710.1,776.2 711.6,789.9 713.9,777.7 716.2,783.1 718.5,778.5 720.8,780.0 723.0,784.6 725.3,780.0 727.6,780.8 730.7,796.0 733.0,791.5 736.0,788.4 738.3,780.8 740.6,780.0 742.1,788.4 744.1,818.9 745.9,809.8 749.0,811.3 751.2,806.7 753.5,794.5 755.4,783.8 757.3,793.0 760.4,794.5 762.7,799.1 765.0,800.6 766.5,793.0 768.8,786.9 770.3,788.4 772.6,780.8 774.9,791.5 777.2,791.5 778.7,799.8 781.0,797.6 783.3,796.0 784.8,786.9 787.1,783.1 789.4,789.2 790.9,774.7 792.4,776.2 794.0,780.0 796.3,772.4 798.5,780.0 801.6,785.4 804.6,788.4 806.9,791.5 810.0,781.6 811.5,785.4 813.8,803.7 816.1,806.7 817.6,812.0 819.1,800.6 820.6,809.8 822.9,797.6 825.2,794.5 826.7,783.1 828.3,791.5 830.5,792.2 832.8,796.0 835.1,803.7 837.4,805.2 839.7,800.6 842.0,799.1 843.5,797.6 845.5,786.1 847.3,808.2 848.8,822.0 850.4,803.7 851.9,812.8 853.4,803.7 855.7,791.5 858.0,761.0 859.5,757.9 861.8,757.9 863.8,736.6 865.6,761.0 868.7,756.4 871.7,753.4 874.0,759.5 876.3,763.3 878.6,760.2 880.9,756.4 883.1,773.2 883.9,785.4 886.2,791.5 887.7,806.7 889.2,788.4 891.2,768.6 893.0,777.0 895.3,786.1 897.6,779.3 899.9,783.1 902.2,783.1 904.5,773.2 906.8,771.6 909.1,773.2 911.3,767.8 913.6,779.3 915.2,787.7 917.4,789.9 919.7,788.4 921.3,797.6 922.8,786.9 925.1,789.9 926.6,794.5 928.9,805.2 931.1,799.1 933.4,793.0 934.9,795.3 936.4,780.8 938.0,773.2 939.2,765.5 940.2,777.7 941.8,771.6 944.8,773.2 947.1,767.8 949.4,774.7 951.7,772.4 953.2,777.7 954.7,774.7 956.3,764.0 957.5,751.1 958.8,768.6 961.5,805.9 963.0,801.3 969.1,802.0 970.7,802.8 973.7,793.7 975.2,795.2 976.8,786.8 979.8,789.1 982.9,786.8 985.2,787.6 987.4,798.3 989.0,795.2 990.5,810.5 992.8,798.3 995.8,790.6 997.4,798.3 1000.4,799.8 1002.7,803.6 1004.2,795.2 1005.7,767.8 1007.3,766.2 1008.8,763.2 1010.3,751.0 1011.8,729.6 1013.4,727.4 1014.1,735.0 1015.7,723.5 1017.6,710.6 1018.7,726.6 1020.2,724.3 1020.2,750.2 13.5,750.2" fill="url(#obf)" clip-path="url(#ob)"/><clipPath id="os"><rect x="14" y="817.1" width="1335" height="22"/></clipPath><polygon points="13.5,786.6 15.2,797.0 17.0,767.5 19.5,772.7 22.0,755.4 25.2,740.7 27.3,750.2 29.0,757.0 30.8,767.5 33.4,760.6 36.8,773.6 40.3,760.6 43.8,752.0 45.5,751.0 46.7,769.0 49.8,774.4 55.0,778.0 59.3,791.8 62.0,783.0 65.4,786.6 69.7,778.8 72.3,784.8 75.8,790.9 77.9,763.2 80.1,776.2 82.7,797.0 84.1,822.0 86.2,800.4 88.8,809.0 91.4,794.4 94.8,796.0 97.4,802.0 103.5,781.4 107.0,786.6 110.4,780.5 113.9,785.7 118.2,788.3 124.3,786.6 127.7,783.0 131.2,803.9 135.5,812.5 139.8,802.0 143.3,791.8 145.0,784.8 147.6,798.7 151.1,802.0 153.7,794.4 157.2,797.0 161.5,790.0 164.1,769.3 167.5,753.7 170.1,762.3 172.7,771.0 175.3,752.0 178.0,760.6 179.7,752.0 182.3,764.0 184.9,766.7 188.3,781.4 191.8,771.0 195.2,774.4 198.7,784.8 202.2,794.4 204.8,801.3 207.4,778.0 210.8,784.8 215.2,779.6 219.5,788.3 224.7,788.3 227.3,793.5 231.6,800.4 235.1,778.0 238.5,790.0 242.0,789.2 244.6,800.4 247.2,781.4 249.8,775.3 252.0,743.3 254.1,765.8 256.7,767.5 259.3,753.7 261.4,743.4 263.4,748.0 264.5,747.3 266.0,758.7 268.0,767.8 270.2,765.5 273.3,764.8 276.3,763.3 279.4,770.1 282.4,764.0 284.7,770.1 286.7,762.5 288.5,785.4 290.4,801.4 292.3,791.5 294.6,793.0 296.9,791.5 299.2,785.4 302.3,791.5 305.3,792.2 307.6,789.9 309.9,799.1 312.2,809.0 314.5,808.2 316.7,812.8 318.3,805.2 319.8,806.7 322.1,800.6 324.4,782.3 326.6,771.6 328.2,771.6 329.7,779.3 331.2,774.7 333.5,784.6 335.8,776.2 338.1,764.0 340.4,745.7 342.7,754.1 344.2,750.3 345.7,751.8 347.2,749.5 348.0,769.4 350.3,764.0 352.6,760.2 354.1,777.7 355.6,770.1 358.7,788.4 360.9,793.8 363.2,789.9 366.3,783.1 369.3,785.4 372.4,788.4 374.7,791.5 377.0,800.6 379.2,792.2 381.5,782.3 383.8,789.2 386.9,799.8 389.1,791.5 391.4,786.9 394.0,791.5 395.2,719.1 396.8,747.3 399.1,748.8 400.6,745.7 402.6,740.4 405.2,753.4 407.4,767.1 409.7,769.4 412.8,769.4 415.8,771.6 418.9,773.2 421.2,780.8 423.4,791.5 425.7,796.0 427.3,796.8 429.6,789.9 432.6,792.2 436.4,795.3 438.7,806.7 441.0,825.8 444.1,809.8 446.3,812.8 449.4,809.8 452.4,809.0 455.5,799.1 457.8,812.0 460.8,807.5 463.9,806.7 467.7,806.7 470.0,812.8 471.5,821.2 473.8,811.3 476.1,797.6 478.4,800.6 480.6,786.9 482.9,777.7 485.2,786.1 488.3,790.7 490.5,793.0 492.8,779.3 495.1,774.7 497.4,777.7 499.4,766.3 501.2,777.7 503.5,779.3 507.3,794.5 510.4,805.2 513.4,800.6 515.7,791.5 518.8,797.6 520.3,771.6 522.6,770.1 524.8,757.9 526.4,751.8 528.7,755.6 531.0,766.3 533.2,756.4 535.5,739.6 538.6,738.9 540.9,738.1 542.7,720.6 544.7,739.6 547.0,754.9 550.0,754.9 551.5,753.4 553.8,771.6 556.1,783.8 559.1,780.8 561.4,797.6 563.7,780.8 566.8,780.8 569.1,786.9 571.3,785.4 574.4,779.3 577.4,777.7 579.7,771.6 581.2,760.2 582.8,754.9 585.1,764.0 586.6,786.9 589.6,780.8 591.9,787.7 594.2,788.4 596.5,793.8 598.8,782.3 601.1,783.8 602.6,788.4 604.1,770.1 605.7,784.6 607.2,777.0 609.5,782.3 611.8,788.4 613.3,780.0 615.6,800.6 618.6,806.7 621.7,813.6 624.0,797.6 626.3,783.8 627.8,796.0 630.8,793.8 633.9,795.3 636.2,805.2 638.4,801.4 640.7,812.8 643.8,816.6 646.1,803.7 649.1,797.6 651.4,811.3 654.5,799.8 656.7,805.2 659.0,802.1 661.3,794.5 663.6,786.9 665.9,787.7 667.4,782.3 669.7,764.0 671.2,761.7 672.7,773.2 675.0,767.1 677.3,776.2 679.6,788.4 681.9,780.8 684.2,762.5 686.5,757.9 688.3,747.3 690.6,741.9 692.6,750.3 694.1,774.7 696.4,767.1 699.4,767.1 701.7,746.5 703.2,758.7 705.5,765.5 707.8,785.4 710.1,776.2 711.6,789.9 713.9,777.7 716.2,783.1 718.5,778.5 720.8,780.0 723.0,784.6 725.3,780.0 727.6,780.8 730.7,796.0 733.0,791.5 736.0,788.4 738.3,780.8 740.6,780.0 742.1,788.4 744.1,818.9 745.9,809.8 749.0,811.3 751.2,806.7 753.5,794.5 755.4,783.8 757.3,793.0 760.4,794.5 762.7,799.1 765.0,800.6 766.5,793.0 768.8,786.9 770.3,788.4 772.6,780.8 774.9,791.5 777.2,791.5 778.7,799.8 781.0,797.6 783.3,796.0 784.8,786.9 787.1,783.1 789.4,789.2 790.9,774.7 792.4,776.2 794.0,780.0 796.3,772.4 798.5,780.0 801.6,785.4 804.6,788.4 806.9,791.5 810.0,781.6 811.5,785.4 813.8,803.7 816.1,806.7 817.6,812.0 819.1,800.6 820.6,809.8 822.9,797.6 825.2,794.5 826.7,783.1 828.3,791.5 830.5,792.2 832.8,796.0 835.1,803.7 837.4,805.2 839.7,800.6 842.0,799.1 843.5,797.6 845.5,786.1 847.3,808.2 848.8,822.0 850.4,803.7 851.9,812.8 853.4,803.7 855.7,791.5 858.0,761.0 859.5,757.9 861.8,757.9 863.8,736.6 865.6,761.0 868.7,756.4 871.7,753.4 874.0,759.5 876.3,763.3 878.6,760.2 880.9,756.4 883.1,773.2 883.9,785.4 886.2,791.5 887.7,806.7 889.2,788.4 891.2,768.6 893.0,777.0 895.3,786.1 897.6,779.3 899.9,783.1 902.2,783.1 904.5,773.2 906.8,771.6 909.1,773.2 911.3,767.8 913.6,779.3 915.2,787.7 917.4,789.9 919.7,788.4 921.3,797.6 922.8,786.9 925.1,789.9 926.6,794.5 928.9,805.2 931.1,799.1 933.4,793.0 934.9,795.3 936.4,780.8 938.0,773.2 939.2,765.5 940.2,777.7 941.8,771.6 944.8,773.2 947.1,767.8 949.4,774.7 951.7,772.4 953.2,777.7 954.7,774.7 956.3,764.0 957.5,751.1 958.8,768.6 961.5,805.9 963.0,801.3 969.1,802.0 970.7,802.8 973.7,793.7 975.2,795.2 976.8,786.8 979.8,789.1 982.9,786.8 985.2,787.6 987.4,798.3 989.0,795.2 990.5,810.5 992.8,798.3 995.8,790.6 997.4,798.3 1000.4,799.8 1002.7,803.6 1004.2,795.2 1005.7,767.8 1007.3,766.2 1008.8,763.2 1010.3,751.0 1011.8,729.6 1013.4,727.4 1014.1,735.0 1015.7,723.5 1017.6,710.6 1018.7,726.6 1020.2,724.3 1020.2,817.1 13.5,817.1" fill="#f23645" fill-opacity="0.25" clip-path="url(#os)"/><polyline points="13.5,788.3 23.9,769.3 35.1,758.0 44.6,761.5 55.0,767.5 63.7,781.4 72.3,784.0 81.0,783.0 91.4,795.2 98.3,800.4 107.0,790.0 117.3,786.6 127.7,787.4 141.6,799.6 150.2,801.3 162.4,794.4 171.0,772.7 179.7,760.6 193.5,771.0 205.6,784.8 217.8,786.6 229.9,790.0 245.5,791.8 259.3,772.7 266.4,758.7 276.3,760.2 285.5,765.5 293.1,777.7 300.7,786.9 308.4,790.7 316.0,796.0 322.1,801.4 328.2,793.0 335.8,783.1 343.4,770.1 352.6,758.7 361.7,771.6 369.3,780.8 377.0,786.9 384.6,788.4 393.7,791.5 401.3,771.6 410.5,752.6 418.1,760.2 425.7,774.7 434.1,789.9 443.3,803.7 454.0,811.3 464.6,806.7 473.8,809.0 482.9,800.6 492.1,791.5 501.2,780.8 508.8,782.3 518.0,791.5 524.1,789.9 531.7,774.7 539.3,756.4 545.4,745.0 550.0,742.7 556.1,751.8 562.2,770.1 568.3,779.3 574.4,783.1 582.0,779.3 589.6,774.7 595.7,777.7 602.6,783.8 611.8,783.8 620.9,789.9 630.1,794.5 639.2,797.6 648.4,803.7 656.0,806.7 663.6,799.1 672.7,785.4 680.4,776.2 689.5,770.1 698.7,764.8 704.0,760.2 710.9,770.1 720.0,777.7 729.1,783.1 738.3,786.9 745.9,794.5 753.5,800.6 759.6,802.1 765.7,797.6 771.1,793.0 780.2,793.0 789.4,789.9 797.0,783.8 801.6,780.0 809.2,783.8 815.3,791.5 822.9,796.8 830.5,799.1 838.2,797.6 845.8,797.6 853.4,803.7 859.5,789.9 865.6,773.2 871.7,757.9 877.8,756.4 883.9,764.0 890.0,774.7 897.6,782.3 905.2,779.3 912.9,777.0 920.5,781.6 929.6,791.5 934.9,794.5 941.8,786.9 949.4,777.7 955.5,773.2 959.3,770.1 964.6,780.8 970.7,791.5 976.8,794.5 982.9,793.0 989.0,791.5 996.6,794.5 1002.7,799.1 1003.5,799.0 1008.8,789.1 1013.4,773.9 1017.2,757.1 1020.2,744.9" fill="none" stroke="#f0e66a" stroke-width="1.6"/><polyline points="13.5,786.6 15.2,797.0 17.0,767.5 19.5,772.7 22.0,755.4 25.2,740.7 27.3,750.2 29.0,757.0 30.8,767.5 33.4,760.6 36.8,773.6 40.3,760.6 43.8,752.0 45.5,751.0 46.7,769.0 49.8,774.4 55.0,778.0 59.3,791.8 62.0,783.0 65.4,786.6 69.7,778.8 72.3,784.8 75.8,790.9 77.9,763.2 80.1,776.2 82.7,797.0 84.1,822.0 86.2,800.4 88.8,809.0 91.4,794.4 94.8,796.0 97.4,802.0 103.5,781.4 107.0,786.6 110.4,780.5 113.9,785.7 118.2,788.3 124.3,786.6 127.7,783.0 131.2,803.9 135.5,812.5 139.8,802.0 143.3,791.8 145.0,784.8 147.6,798.7 151.1,802.0 153.7,794.4 157.2,797.0 161.5,790.0 164.1,769.3 167.5,753.7 170.1,762.3 172.7,771.0 175.3,752.0 178.0,760.6 179.7,752.0 182.3,764.0 184.9,766.7 188.3,781.4 191.8,771.0 195.2,774.4 198.7,784.8 202.2,794.4 204.8,801.3 207.4,778.0 210.8,784.8 215.2,779.6 219.5,788.3 224.7,788.3 227.3,793.5 231.6,800.4 235.1,778.0 238.5,790.0 242.0,789.2 244.6,800.4 247.2,781.4 249.8,775.3 252.0,743.3 254.1,765.8 256.7,767.5 259.3,753.7 261.4,743.4 263.4,748.0 264.5,747.3 266.0,758.7 268.0,767.8 270.2,765.5 273.3,764.8 276.3,763.3 279.4,770.1 282.4,764.0 284.7,770.1 286.7,762.5 288.5,785.4 290.4,801.4 292.3,791.5 294.6,793.0 296.9,791.5 299.2,785.4 302.3,791.5 305.3,792.2 307.6,789.9 309.9,799.1 312.2,809.0 314.5,808.2 316.7,812.8 318.3,805.2 319.8,806.7 322.1,800.6 324.4,782.3 326.6,771.6 328.2,771.6 329.7,779.3 331.2,774.7 333.5,784.6 335.8,776.2 338.1,764.0 340.4,745.7 342.7,754.1 344.2,750.3 345.7,751.8 347.2,749.5 348.0,769.4 350.3,764.0 352.6,760.2 354.1,777.7 355.6,770.1 358.7,788.4 360.9,793.8 363.2,789.9 366.3,783.1 369.3,785.4 372.4,788.4 374.7,791.5 377.0,800.6 379.2,792.2 381.5,782.3 383.8,789.2 386.9,799.8 389.1,791.5 391.4,786.9 394.0,791.5 395.2,719.1 396.8,747.3 399.1,748.8 400.6,745.7 402.6,740.4 405.2,753.4 407.4,767.1 409.7,769.4 412.8,769.4 415.8,771.6 418.9,773.2 421.2,780.8 423.4,791.5 425.7,796.0 427.3,796.8 429.6,789.9 432.6,792.2 436.4,795.3 438.7,806.7 441.0,825.8 444.1,809.8 446.3,812.8 449.4,809.8 452.4,809.0 455.5,799.1 457.8,812.0 460.8,807.5 463.9,806.7 467.7,806.7 470.0,812.8 471.5,821.2 473.8,811.3 476.1,797.6 478.4,800.6 480.6,786.9 482.9,777.7 485.2,786.1 488.3,790.7 490.5,793.0 492.8,779.3 495.1,774.7 497.4,777.7 499.4,766.3 501.2,777.7 503.5,779.3 507.3,794.5 510.4,805.2 513.4,800.6 515.7,791.5 518.8,797.6 520.3,771.6 522.6,770.1 524.8,757.9 526.4,751.8 528.7,755.6 531.0,766.3 533.2,756.4 535.5,739.6 538.6,738.9 540.9,738.1 542.7,720.6 544.7,739.6 547.0,754.9 550.0,754.9 551.5,753.4 553.8,771.6 556.1,783.8 559.1,780.8 561.4,797.6 563.7,780.8 566.8,780.8 569.1,786.9 571.3,785.4 574.4,779.3 577.4,777.7 579.7,771.6 581.2,760.2 582.8,754.9 585.1,764.0 586.6,786.9 589.6,780.8 591.9,787.7 594.2,788.4 596.5,793.8 598.8,782.3 601.1,783.8 602.6,788.4 604.1,770.1 605.7,784.6 607.2,777.0 609.5,782.3 611.8,788.4 613.3,780.0 615.6,800.6 618.6,806.7 621.7,813.6 624.0,797.6 626.3,783.8 627.8,796.0 630.8,793.8 633.9,795.3 636.2,805.2 638.4,801.4 640.7,812.8 643.8,816.6 646.1,803.7 649.1,797.6 651.4,811.3 654.5,799.8 656.7,805.2 659.0,802.1 661.3,794.5 663.6,786.9 665.9,787.7 667.4,782.3 669.7,764.0 671.2,761.7 672.7,773.2 675.0,767.1 677.3,776.2 679.6,788.4 681.9,780.8 684.2,762.5 686.5,757.9 688.3,747.3 690.6,741.9 692.6,750.3 694.1,774.7 696.4,767.1 699.4,767.1 701.7,746.5 703.2,758.7 705.5,765.5 707.8,785.4 710.1,776.2 711.6,789.9 713.9,777.7 716.2,783.1 718.5,778.5 720.8,780.0 723.0,784.6 725.3,780.0 727.6,780.8 730.7,796.0 733.0,791.5 736.0,788.4 738.3,780.8 740.6,780.0 742.1,788.4 744.1,818.9 745.9,809.8 749.0,811.3 751.2,806.7 753.5,794.5 755.4,783.8 757.3,793.0 760.4,794.5 762.7,799.1 765.0,800.6 766.5,793.0 768.8,786.9 770.3,788.4 772.6,780.8 774.9,791.5 777.2,791.5 778.7,799.8 781.0,797.6 783.3,796.0 784.8,786.9 787.1,783.1 789.4,789.2 790.9,774.7 792.4,776.2 794.0,780.0 796.3,772.4 798.5,780.0 801.6,785.4 804.6,788.4 806.9,791.5 810.0,781.6 811.5,785.4 813.8,803.7 816.1,806.7 817.6,812.0 819.1,800.6 820.6,809.8 822.9,797.6 825.2,794.5 826.7,783.1 828.3,791.5 830.5,792.2 832.8,796.0 835.1,803.7 837.4,805.2 839.7,800.6 842.0,799.1 843.5,797.6 845.5,786.1 847.3,808.2 848.8,822.0 850.4,803.7 851.9,812.8 853.4,803.7 855.7,791.5 858.0,761.0 859.5,757.9 861.8,757.9 863.8,736.6 865.6,761.0 868.7,756.4 871.7,753.4 874.0,759.5 876.3,763.3 878.6,760.2 880.9,756.4 883.1,773.2 883.9,785.4 886.2,791.5 887.7,806.7 889.2,788.4 891.2,768.6 893.0,777.0 895.3,786.1 897.6,779.3 899.9,783.1 902.2,783.1 904.5,773.2 906.8,771.6 909.1,773.2 911.3,767.8 913.6,779.3 915.2,787.7 917.4,789.9 919.7,788.4 921.3,797.6 922.8,786.9 925.1,789.9 926.6,794.5 928.9,805.2 931.1,799.1 933.4,793.0 934.9,795.3 936.4,780.8 938.0,773.2 939.2,765.5 940.2,777.7 941.8,771.6 944.8,773.2 947.1,767.8 949.4,774.7 951.7,772.4 953.2,777.7 954.7,774.7 956.3,764.0 957.5,751.1 958.8,768.6 961.5,805.9 963.0,801.3 969.1,802.0 970.7,802.8 973.7,793.7 975.2,795.2 976.8,786.8 979.8,789.1 982.9,786.8 985.2,787.6 987.4,798.3 989.0,795.2 990.5,810.5 992.8,798.3 995.8,790.6 997.4,798.3 1000.4,799.8 1002.7,803.6 1004.2,795.2 1005.7,767.8 1007.3,766.2 1008.8,763.2 1010.3,751.0 1011.8,729.6 1013.4,727.4 1014.1,735.0 1015.7,723.5 1017.6,710.6 1018.7,726.6 1020.2,724.3" fill="none" stroke="#7e57c2" stroke-width="1.3"/></g><ellipse cx="1016.5" cy="727" rx="45.5" ry="28.5" transform="rotate(-12 1016.5 727)" fill="none" stroke="#6f5cc0" stroke-width="1.5"/><text x="23.5" y="721.8" font-size="15.4" fill="#131722" text-anchor="start" font-weight="400" textLength="94.2" lengthAdjust="spacingAndGlyphs" >RSI (14, close)</text><text x="127.7" y="721.8" font-size="15.4" fill="#7e57c2" text-anchor="start" font-weight="400" textLength="36.4" lengthAdjust="spacingAndGlyphs" >85.34</text><text x="173.6" y="721.8" font-size="15.4" fill="#f5e96b" text-anchor="start" font-weight="400" textLength="37.2" lengthAdjust="spacingAndGlyphs" >73.30</text><text x="220.70000000000002" y="722.3" font-size="13" fill="#2a2e39" text-anchor="start" font-weight="400" textLength="7.4" lengthAdjust="spacingAndGlyphs" >Ø</text><text x="239.5" y="722.3" font-size="13" fill="#2a2e39" text-anchor="start" font-weight="400" textLength="7.4" lengthAdjust="spacingAndGlyphs" >Ø</text><text x="258.3" y="722.3" font-size="13" fill="#2a2e39" text-anchor="start" font-weight="400" textLength="7.4" lengthAdjust="spacingAndGlyphs" >Ø</text><text x="277.5" y="722.3" font-size="13" fill="#2a2e39" text-anchor="start" font-weight="400" textLength="7.4" lengthAdjust="spacingAndGlyphs" >Ø</text><text x="296.3" y="722.3" font-size="13" fill="#2a2e39" text-anchor="start" font-weight="400" textLength="7.4" lengthAdjust="spacingAndGlyphs" >Ø</text><text x="315.40000000000003" y="722.3" font-size="13" fill="#2a2e39" text-anchor="start" font-weight="400" textLength="7.4" lengthAdjust="spacingAndGlyphs" >Ø</text><text x="1405.2" y="71.86000000000004" font-size="15.2" fill="#131722" text-anchor="end" font-weight="400" textLength="45" lengthAdjust="spacingAndGlyphs" >1.3000</text><text x="1405.2" y="139.7400000000001" font-size="15.2" fill="#131722" text-anchor="end" font-weight="400" textLength="45" lengthAdjust="spacingAndGlyphs" >1.2000</text><text x="1405.2" y="275.5" font-size="15.2" fill="#131722" text-anchor="end" font-weight="400" textLength="45" lengthAdjust="spacingAndGlyphs" >1.0000</text><text x="1405.2" y="343.38" font-size="15.2" fill="#131722" text-anchor="end" font-weight="400" textLength="45" lengthAdjust="spacingAndGlyphs" >0.9000</text><text x="1405.2" y="411.26" font-size="15.2" fill="#131722" text-anchor="end" font-weight="400" textLength="45" lengthAdjust="spacingAndGlyphs" >0.8000</text><text x="1405.2" y="479.14" font-size="15.2" fill="#131722" text-anchor="end" font-weight="400" textLength="45" lengthAdjust="spacingAndGlyphs" >0.7000</text><text x="1405.2" y="547.02" font-size="15.2" fill="#131722" text-anchor="end" font-weight="400" textLength="45" lengthAdjust="spacingAndGlyphs" >0.6000</text><text x="1405.2" y="614.9" font-size="15.2" fill="#131722" text-anchor="end" font-weight="400" textLength="45" lengthAdjust="spacingAndGlyphs" >0.5000</text><text x="1405.2" y="682.78" font-size="15.2" fill="#131722" text-anchor="end" font-weight="400" textLength="45" lengthAdjust="spacingAndGlyphs" >0.4000</text><path d="M1289,171.9 H1348.7 V192.7 H1289 Q1287,192.7 1287,190.7 V173.9 Q1287,171.9 1289,171.9 Z" fill="#089981"/><text x="1293" y="187.8" font-size="15.6" fill="#ffffff" text-anchor="start" font-weight="400" textLength="50.6" lengthAdjust="spacingAndGlyphs" >XRPUSD</text><path d="M1350.2,171.9 H1422.8 Q1424.8,171.9 1424.8,173.9 V208.5 Q1424.8,210.5 1422.8,210.5 H1350.2 Z" fill="#089981"/><text x="1361.8" y="187.6" font-size="14" fill="#ffffff" text-anchor="start" font-weight="400" textLength="44.2" lengthAdjust="spacingAndGlyphs" >1.1296</text><text x="1360.9" y="205.7" font-size="14" fill="#ffffff" text-anchor="start" font-weight="400" textLength="58.2" lengthAdjust="spacingAndGlyphs" >05:56:59</text><clipPath id="c100"><rect x="1350" y="697.5" width="80" height="20"/></clipPath><text x="1404.6" y="705.8" font-size="14" fill="#131722" text-anchor="end" font-weight="400" textLength="43.6" lengthAdjust="spacingAndGlyphs" clip-path="url(#c100)">100.00</text><path d="M1350,715.3 H1401.5 Q1403.5,715.3 1403.5,717.3 V735.7 H1350 Z" fill="#7e57c2"/><text x="1397.5" y="730.5" font-size="14" fill="#ffffff" text-anchor="end" font-weight="400" textLength="37" lengthAdjust="spacingAndGlyphs" >85.34</text><path d="M1350,735.7 H1403.5 V753.9 Q1403.5,755.9 1401.5,755.9 H1350 Z" fill="#ffeb3b"/><text x="1397.5" y="751" font-size="14" fill="#131722" text-anchor="end" font-weight="400" textLength="37" lengthAdjust="spacingAndGlyphs" >73.30</text><text x="1397.8" y="788.3" font-size="14" fill="#131722" text-anchor="end" font-weight="400" textLength="37" lengthAdjust="spacingAndGlyphs" >50.00</text><text x="1397.8" y="830.8" font-size="14" fill="#131722" text-anchor="end" font-weight="400" textLength="37" lengthAdjust="spacingAndGlyphs" >25.00</text><rect x="1352" y="779.6" width="52" height="21.6" fill="#fff"/><text x="1397.8" y="795.5" font-size="14" fill="#131722" text-anchor="end" font-weight="400" textLength="37" lengthAdjust="spacingAndGlyphs" >45.94</text><rect x="1352" y="801.2" width="52" height="21.5" fill="#fff"/><text x="1397.8" y="817.6" font-size="14" fill="#131722" text-anchor="end" font-weight="400" textLength="37" lengthAdjust="spacingAndGlyphs" >37.61</text><text x="23.5" y="862.4" font-size="15.5" fill="#131722" text-anchor="start" font-weight="400" textLength="22.8" lengthAdjust="spacingAndGlyphs" >Oct</text><text x="134.9" y="862.4" font-size="15.5" fill="#131722" text-anchor="start" font-weight="700" textLength="33.2" lengthAdjust="spacingAndGlyphs" >2023</text><text x="254.3" y="862.4" font-size="15.5" fill="#131722" text-anchor="start" font-weight="400" textLength="22.2" lengthAdjust="spacingAndGlyphs" >Apr</text><text x="371.2" y="862.4" font-size="15.5" fill="#131722" text-anchor="start" font-weight="400" textLength="18.8" lengthAdjust="spacingAndGlyphs" >Jul</text><text x="485.3" y="862.4" font-size="15.5" fill="#131722" text-anchor="start" font-weight="400" textLength="22.7" lengthAdjust="spacingAndGlyphs" >Oct</text><text x="596.7" y="862.4" font-size="15.5" fill="#131722" text-anchor="start" font-weight="700" textLength="34" lengthAdjust="spacingAndGlyphs" >2024</text><text x="717" y="862.4" font-size="15.5" fill="#131722" text-anchor="start" font-weight="400" textLength="22.3" lengthAdjust="spacingAndGlyphs" >Apr</text><text x="834.5" y="862.4" font-size="15.5" fill="#131722" text-anchor="start" font-weight="400" textLength="18.8" lengthAdjust="spacingAndGlyphs" >Jul</text><text x="948.6" y="862.4" font-size="15.5" fill="#131722" text-anchor="start" font-weight="400" textLength="22.8" lengthAdjust="spacingAndGlyphs" >Oct</text><text x="1059.5" y="862.4" font-size="15.5" fill="#131722" text-anchor="start" font-weight="700" textLength="34" lengthAdjust="spacingAndGlyphs" >2025</text><text x="1178.5" y="862.4" font-size="15.5" fill="#131722" text-anchor="start" font-weight="400" textLength="22.3" lengthAdjust="spacingAndGlyphs" >Apr</text><text x="1296" y="862.4" font-size="15.5" fill="#131722" text-anchor="start" font-weight="400" textLength="18.8" lengthAdjust="spacingAndGlyphs" >Jul</text><rect x="13" y="34" width="1418" height="839" fill="none" stroke="#ebecf0" stroke-width="2"/><g fill="#131722"><path d="M13.1,889.9 H22.5 V901.7 H18 V894.3 H13.1 Z"/><circle cx="26.8" cy="892.2" r="2.5"/><path d="M32.3,889.9 H37 L32.6,901.7 H27 Z"/></g><text x="43" y="902.6" font-size="16" fill="#131722" text-anchor="start" font-weight="400" textLength="86.4" lengthAdjust="spacingAndGlyphs" >TradingView</text></svg></body></html>
